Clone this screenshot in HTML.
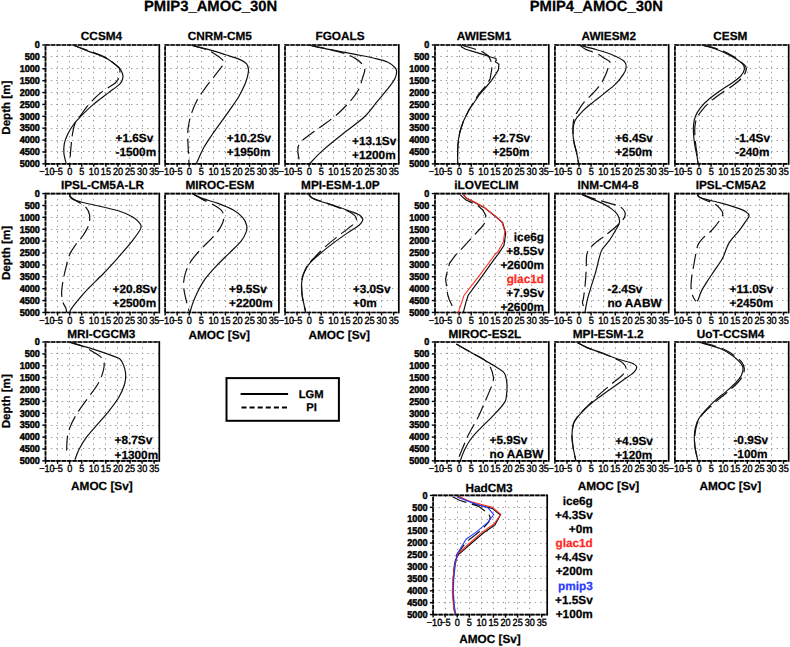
<!DOCTYPE html>
<html><head><meta charset="utf-8"><style>
html,body{margin:0;padding:0;background:#fff;width:790px;height:647px;overflow:hidden}
svg{display:block}
text{font-family:"Liberation Sans",sans-serif;stroke-width:0.25;text-rendering:geometricPrecision}
.gr{stroke:#999;stroke-width:1;stroke-dasharray:1.4 3.95}
.fu{stroke:#888;stroke-width:1.65;fill:none}
.fr{stroke:#000;stroke-width:1.65;fill:none;stroke-dasharray:4.3 1.1}
.fs{stroke:#000;stroke-width:1.7;fill:none}
.cs{stroke:#111;stroke-width:1.2;fill:none}
.cd{stroke:#111;stroke-width:1.2;fill:none;stroke-dasharray:15 5.7}
.cr{stroke:#ff2a1f;stroke-width:1.05;fill:none}
.cb{stroke:#2a3cff;stroke-width:1.05;fill:none}
.tk{stroke:#000;stroke-width:1.4}
.xl{font-size:10.4px;text-anchor:middle;stroke:#000;stroke-width:0.4}
.yl{font-size:9.9px;font-weight:bold;text-anchor:end;stroke:#000;stroke-width:0.5}
</style></head><body>
<svg width="790" height="647" viewBox="0 0 790 647">
<rect width="790" height="647" fill="#fff"/>
<line x1="57.50" y1="45.00" x2="57.50" y2="163.85" class="gr"/>
<line x1="69.50" y1="45.00" x2="69.50" y2="163.85" class="gr"/>
<line x1="81.50" y1="45.00" x2="81.50" y2="163.85" class="gr"/>
<line x1="93.50" y1="45.00" x2="93.50" y2="163.85" class="gr"/>
<line x1="105.50" y1="45.00" x2="105.50" y2="163.85" class="gr"/>
<line x1="117.50" y1="45.00" x2="117.50" y2="163.85" class="gr"/>
<line x1="129.50" y1="45.00" x2="129.50" y2="163.85" class="gr"/>
<line x1="142.50" y1="45.00" x2="142.50" y2="163.85" class="gr"/>
<line x1="45.50" y1="56.50" x2="159.30" y2="56.50" class="gr"/>
<line x1="45.50" y1="68.50" x2="159.30" y2="68.50" class="gr"/>
<line x1="45.50" y1="80.50" x2="159.30" y2="80.50" class="gr"/>
<line x1="45.50" y1="92.50" x2="159.30" y2="92.50" class="gr"/>
<line x1="45.50" y1="104.50" x2="159.30" y2="104.50" class="gr"/>
<line x1="45.50" y1="116.50" x2="159.30" y2="116.50" class="gr"/>
<line x1="45.50" y1="128.50" x2="159.30" y2="128.50" class="gr"/>
<line x1="45.50" y1="140.50" x2="159.30" y2="140.50" class="gr"/>
<line x1="45.50" y1="151.50" x2="159.30" y2="151.50" class="gr"/>
<path d="M45.50,163.85V45.00H159.30M45.50,163.85H159.30" class="fu"/>
<path d="M45.50,163.85V45.00H159.30" class="fr"/>
<path d="M45.50,163.85H159.30" class="fr"/>
<path d="M159.30,44.10V164.75" class="fs"/>
<line x1="45.50" y1="163.85" x2="45.50" y2="166.85" class="tk"/>
<line x1="57.57" y1="163.85" x2="57.57" y2="166.85" class="tk"/>
<line x1="69.64" y1="163.85" x2="69.64" y2="166.85" class="tk"/>
<line x1="81.71" y1="163.85" x2="81.71" y2="166.85" class="tk"/>
<line x1="93.78" y1="163.85" x2="93.78" y2="166.85" class="tk"/>
<line x1="105.85" y1="163.85" x2="105.85" y2="166.85" class="tk"/>
<line x1="117.92" y1="163.85" x2="117.92" y2="166.85" class="tk"/>
<line x1="129.99" y1="163.85" x2="129.99" y2="166.85" class="tk"/>
<line x1="142.06" y1="163.85" x2="142.06" y2="166.85" class="tk"/>
<line x1="154.13" y1="163.85" x2="154.13" y2="166.85" class="tk"/>
<text transform="translate(46.90,175.45) scale(0.88,1)" class="xl">−10</text>
<text transform="translate(57.67,175.45) scale(0.88,1)" class="xl">−5</text>
<text transform="translate(69.74,175.45) scale(0.88,1)" class="xl">0</text>
<text transform="translate(81.81,175.45) scale(0.88,1)" class="xl">5</text>
<text transform="translate(93.88,175.45) scale(0.88,1)" class="xl">10</text>
<text transform="translate(105.95,175.45) scale(0.88,1)" class="xl">15</text>
<text transform="translate(118.02,175.45) scale(0.88,1)" class="xl">20</text>
<text transform="translate(130.09,175.45) scale(0.88,1)" class="xl">25</text>
<text transform="translate(142.16,175.45) scale(0.88,1)" class="xl">30</text>
<text transform="translate(154.23,175.45) scale(0.88,1)" class="xl">35</text>
<line x1="42.30" y1="45.00" x2="45.50" y2="45.00" class="tk"/>
<text transform="translate(39.90,48.25) scale(0.92,1)" class="yl">0</text>
<line x1="42.30" y1="56.88" x2="45.50" y2="56.88" class="tk"/>
<text transform="translate(39.90,60.13) scale(0.92,1)" class="yl">500</text>
<line x1="42.30" y1="68.77" x2="45.50" y2="68.77" class="tk"/>
<text transform="translate(39.90,72.02) scale(0.92,1)" class="yl">1000</text>
<line x1="42.30" y1="80.66" x2="45.50" y2="80.66" class="tk"/>
<text transform="translate(39.90,83.91) scale(0.92,1)" class="yl">1500</text>
<line x1="42.30" y1="92.54" x2="45.50" y2="92.54" class="tk"/>
<text transform="translate(39.90,95.79) scale(0.92,1)" class="yl">2000</text>
<line x1="42.30" y1="104.42" x2="45.50" y2="104.42" class="tk"/>
<text transform="translate(39.90,107.67) scale(0.92,1)" class="yl">2500</text>
<line x1="42.30" y1="116.31" x2="45.50" y2="116.31" class="tk"/>
<text transform="translate(39.90,119.56) scale(0.92,1)" class="yl">3000</text>
<line x1="42.30" y1="128.19" x2="45.50" y2="128.19" class="tk"/>
<text transform="translate(39.90,131.44) scale(0.92,1)" class="yl">3500</text>
<line x1="42.30" y1="140.08" x2="45.50" y2="140.08" class="tk"/>
<text transform="translate(39.90,143.33) scale(0.92,1)" class="yl">4000</text>
<line x1="42.30" y1="151.96" x2="45.50" y2="151.96" class="tk"/>
<text transform="translate(39.90,155.21) scale(0.92,1)" class="yl">4500</text>
<line x1="42.30" y1="163.85" x2="45.50" y2="163.85" class="tk"/>
<text transform="translate(39.90,167.10) scale(0.92,1)" class="yl">5000</text>
<text x="101.50" y="40.40" font-size="11.8" text-anchor="middle" font-weight="bold" fill="#000" stroke="#000" >CCSM4</text>
<line x1="177.50" y1="45.00" x2="177.50" y2="163.85" class="gr"/>
<line x1="189.50" y1="45.00" x2="189.50" y2="163.85" class="gr"/>
<line x1="201.50" y1="45.00" x2="201.50" y2="163.85" class="gr"/>
<line x1="213.50" y1="45.00" x2="213.50" y2="163.85" class="gr"/>
<line x1="225.50" y1="45.00" x2="225.50" y2="163.85" class="gr"/>
<line x1="237.50" y1="45.00" x2="237.50" y2="163.85" class="gr"/>
<line x1="249.50" y1="45.00" x2="249.50" y2="163.85" class="gr"/>
<line x1="261.50" y1="45.00" x2="261.50" y2="163.85" class="gr"/>
<line x1="165.10" y1="56.50" x2="278.90" y2="56.50" class="gr"/>
<line x1="165.10" y1="68.50" x2="278.90" y2="68.50" class="gr"/>
<line x1="165.10" y1="80.50" x2="278.90" y2="80.50" class="gr"/>
<line x1="165.10" y1="92.50" x2="278.90" y2="92.50" class="gr"/>
<line x1="165.10" y1="104.50" x2="278.90" y2="104.50" class="gr"/>
<line x1="165.10" y1="116.50" x2="278.90" y2="116.50" class="gr"/>
<line x1="165.10" y1="128.50" x2="278.90" y2="128.50" class="gr"/>
<line x1="165.10" y1="140.50" x2="278.90" y2="140.50" class="gr"/>
<line x1="165.10" y1="151.50" x2="278.90" y2="151.50" class="gr"/>
<path d="M165.10,163.85V45.00H278.90M165.10,163.85H278.90" class="fu"/>
<path d="M165.10,163.85V45.00H278.90" class="fr"/>
<path d="M165.10,163.85H278.90" class="fr"/>
<path d="M278.90,44.10V164.75" class="fs"/>
<line x1="165.10" y1="163.85" x2="165.10" y2="166.85" class="tk"/>
<line x1="177.17" y1="163.85" x2="177.17" y2="166.85" class="tk"/>
<line x1="189.24" y1="163.85" x2="189.24" y2="166.85" class="tk"/>
<line x1="201.31" y1="163.85" x2="201.31" y2="166.85" class="tk"/>
<line x1="213.38" y1="163.85" x2="213.38" y2="166.85" class="tk"/>
<line x1="225.45" y1="163.85" x2="225.45" y2="166.85" class="tk"/>
<line x1="237.52" y1="163.85" x2="237.52" y2="166.85" class="tk"/>
<line x1="249.59" y1="163.85" x2="249.59" y2="166.85" class="tk"/>
<line x1="261.66" y1="163.85" x2="261.66" y2="166.85" class="tk"/>
<line x1="273.73" y1="163.85" x2="273.73" y2="166.85" class="tk"/>
<text transform="translate(166.50,175.45) scale(0.88,1)" class="xl">−10</text>
<text transform="translate(177.27,175.45) scale(0.88,1)" class="xl">−5</text>
<text transform="translate(189.34,175.45) scale(0.88,1)" class="xl">0</text>
<text transform="translate(201.41,175.45) scale(0.88,1)" class="xl">5</text>
<text transform="translate(213.48,175.45) scale(0.88,1)" class="xl">10</text>
<text transform="translate(225.55,175.45) scale(0.88,1)" class="xl">15</text>
<text transform="translate(237.62,175.45) scale(0.88,1)" class="xl">20</text>
<text transform="translate(249.69,175.45) scale(0.88,1)" class="xl">25</text>
<text transform="translate(261.76,175.45) scale(0.88,1)" class="xl">30</text>
<text transform="translate(273.83,175.45) scale(0.88,1)" class="xl">35</text>
<text x="219.80" y="40.40" font-size="11.8" text-anchor="middle" font-weight="bold" fill="#000" stroke="#000" >CNRM-CM5</text>
<line x1="297.50" y1="45.00" x2="297.50" y2="163.85" class="gr"/>
<line x1="309.50" y1="45.00" x2="309.50" y2="163.85" class="gr"/>
<line x1="321.50" y1="45.00" x2="321.50" y2="163.85" class="gr"/>
<line x1="333.50" y1="45.00" x2="333.50" y2="163.85" class="gr"/>
<line x1="345.50" y1="45.00" x2="345.50" y2="163.85" class="gr"/>
<line x1="357.50" y1="45.00" x2="357.50" y2="163.85" class="gr"/>
<line x1="369.50" y1="45.00" x2="369.50" y2="163.85" class="gr"/>
<line x1="381.50" y1="45.00" x2="381.50" y2="163.85" class="gr"/>
<line x1="285.00" y1="56.50" x2="398.80" y2="56.50" class="gr"/>
<line x1="285.00" y1="68.50" x2="398.80" y2="68.50" class="gr"/>
<line x1="285.00" y1="80.50" x2="398.80" y2="80.50" class="gr"/>
<line x1="285.00" y1="92.50" x2="398.80" y2="92.50" class="gr"/>
<line x1="285.00" y1="104.50" x2="398.80" y2="104.50" class="gr"/>
<line x1="285.00" y1="116.50" x2="398.80" y2="116.50" class="gr"/>
<line x1="285.00" y1="128.50" x2="398.80" y2="128.50" class="gr"/>
<line x1="285.00" y1="140.50" x2="398.80" y2="140.50" class="gr"/>
<line x1="285.00" y1="151.50" x2="398.80" y2="151.50" class="gr"/>
<path d="M285.00,163.85V45.00H398.80M285.00,163.85H398.80" class="fu"/>
<path d="M285.00,163.85V45.00H398.80" class="fr"/>
<path d="M285.00,163.85H398.80" class="fr"/>
<path d="M398.80,44.10V164.75" class="fs"/>
<line x1="285.00" y1="163.85" x2="285.00" y2="166.85" class="tk"/>
<line x1="297.07" y1="163.85" x2="297.07" y2="166.85" class="tk"/>
<line x1="309.14" y1="163.85" x2="309.14" y2="166.85" class="tk"/>
<line x1="321.21" y1="163.85" x2="321.21" y2="166.85" class="tk"/>
<line x1="333.28" y1="163.85" x2="333.28" y2="166.85" class="tk"/>
<line x1="345.35" y1="163.85" x2="345.35" y2="166.85" class="tk"/>
<line x1="357.42" y1="163.85" x2="357.42" y2="166.85" class="tk"/>
<line x1="369.49" y1="163.85" x2="369.49" y2="166.85" class="tk"/>
<line x1="381.56" y1="163.85" x2="381.56" y2="166.85" class="tk"/>
<line x1="393.63" y1="163.85" x2="393.63" y2="166.85" class="tk"/>
<text transform="translate(286.40,175.45) scale(0.88,1)" class="xl">−10</text>
<text transform="translate(297.17,175.45) scale(0.88,1)" class="xl">−5</text>
<text transform="translate(309.24,175.45) scale(0.88,1)" class="xl">0</text>
<text transform="translate(321.31,175.45) scale(0.88,1)" class="xl">5</text>
<text transform="translate(333.38,175.45) scale(0.88,1)" class="xl">10</text>
<text transform="translate(345.45,175.45) scale(0.88,1)" class="xl">15</text>
<text transform="translate(357.52,175.45) scale(0.88,1)" class="xl">20</text>
<text transform="translate(369.59,175.45) scale(0.88,1)" class="xl">25</text>
<text transform="translate(381.66,175.45) scale(0.88,1)" class="xl">30</text>
<text transform="translate(393.73,175.45) scale(0.88,1)" class="xl">35</text>
<text x="340.00" y="40.40" font-size="11.8" text-anchor="middle" font-weight="bold" fill="#000" stroke="#000" >FGOALS</text>
<line x1="57.50" y1="193.60" x2="57.50" y2="312.45" class="gr"/>
<line x1="69.50" y1="193.60" x2="69.50" y2="312.45" class="gr"/>
<line x1="81.50" y1="193.60" x2="81.50" y2="312.45" class="gr"/>
<line x1="93.50" y1="193.60" x2="93.50" y2="312.45" class="gr"/>
<line x1="105.50" y1="193.60" x2="105.50" y2="312.45" class="gr"/>
<line x1="117.50" y1="193.60" x2="117.50" y2="312.45" class="gr"/>
<line x1="129.50" y1="193.60" x2="129.50" y2="312.45" class="gr"/>
<line x1="142.50" y1="193.60" x2="142.50" y2="312.45" class="gr"/>
<line x1="45.50" y1="205.50" x2="159.30" y2="205.50" class="gr"/>
<line x1="45.50" y1="217.50" x2="159.30" y2="217.50" class="gr"/>
<line x1="45.50" y1="229.50" x2="159.30" y2="229.50" class="gr"/>
<line x1="45.50" y1="241.50" x2="159.30" y2="241.50" class="gr"/>
<line x1="45.50" y1="253.50" x2="159.30" y2="253.50" class="gr"/>
<line x1="45.50" y1="264.50" x2="159.30" y2="264.50" class="gr"/>
<line x1="45.50" y1="276.50" x2="159.30" y2="276.50" class="gr"/>
<line x1="45.50" y1="288.50" x2="159.30" y2="288.50" class="gr"/>
<line x1="45.50" y1="300.50" x2="159.30" y2="300.50" class="gr"/>
<path d="M45.50,312.45V193.60H159.30M45.50,312.45H159.30" class="fu"/>
<path d="M45.50,312.45V193.60H159.30" class="fr"/>
<path d="M45.50,312.45H159.30" class="fr"/>
<path d="M159.30,192.70V313.35" class="fs"/>
<line x1="45.50" y1="312.45" x2="45.50" y2="315.45" class="tk"/>
<line x1="57.57" y1="312.45" x2="57.57" y2="315.45" class="tk"/>
<line x1="69.64" y1="312.45" x2="69.64" y2="315.45" class="tk"/>
<line x1="81.71" y1="312.45" x2="81.71" y2="315.45" class="tk"/>
<line x1="93.78" y1="312.45" x2="93.78" y2="315.45" class="tk"/>
<line x1="105.85" y1="312.45" x2="105.85" y2="315.45" class="tk"/>
<line x1="117.92" y1="312.45" x2="117.92" y2="315.45" class="tk"/>
<line x1="129.99" y1="312.45" x2="129.99" y2="315.45" class="tk"/>
<line x1="142.06" y1="312.45" x2="142.06" y2="315.45" class="tk"/>
<line x1="154.13" y1="312.45" x2="154.13" y2="315.45" class="tk"/>
<text transform="translate(46.90,324.05) scale(0.88,1)" class="xl">−10</text>
<text transform="translate(57.67,324.05) scale(0.88,1)" class="xl">−5</text>
<text transform="translate(69.74,324.05) scale(0.88,1)" class="xl">0</text>
<text transform="translate(81.81,324.05) scale(0.88,1)" class="xl">5</text>
<text transform="translate(93.88,324.05) scale(0.88,1)" class="xl">10</text>
<text transform="translate(105.95,324.05) scale(0.88,1)" class="xl">15</text>
<text transform="translate(118.02,324.05) scale(0.88,1)" class="xl">20</text>
<text transform="translate(130.09,324.05) scale(0.88,1)" class="xl">25</text>
<text transform="translate(142.16,324.05) scale(0.88,1)" class="xl">30</text>
<text transform="translate(154.23,324.05) scale(0.88,1)" class="xl">35</text>
<line x1="42.30" y1="193.60" x2="45.50" y2="193.60" class="tk"/>
<text transform="translate(39.90,196.85) scale(0.92,1)" class="yl">0</text>
<line x1="42.30" y1="205.48" x2="45.50" y2="205.48" class="tk"/>
<text transform="translate(39.90,208.73) scale(0.92,1)" class="yl">500</text>
<line x1="42.30" y1="217.37" x2="45.50" y2="217.37" class="tk"/>
<text transform="translate(39.90,220.62) scale(0.92,1)" class="yl">1000</text>
<line x1="42.30" y1="229.25" x2="45.50" y2="229.25" class="tk"/>
<text transform="translate(39.90,232.50) scale(0.92,1)" class="yl">1500</text>
<line x1="42.30" y1="241.14" x2="45.50" y2="241.14" class="tk"/>
<text transform="translate(39.90,244.39) scale(0.92,1)" class="yl">2000</text>
<line x1="42.30" y1="253.02" x2="45.50" y2="253.02" class="tk"/>
<text transform="translate(39.90,256.27) scale(0.92,1)" class="yl">2500</text>
<line x1="42.30" y1="264.91" x2="45.50" y2="264.91" class="tk"/>
<text transform="translate(39.90,268.16) scale(0.92,1)" class="yl">3000</text>
<line x1="42.30" y1="276.79" x2="45.50" y2="276.79" class="tk"/>
<text transform="translate(39.90,280.04) scale(0.92,1)" class="yl">3500</text>
<line x1="42.30" y1="288.68" x2="45.50" y2="288.68" class="tk"/>
<text transform="translate(39.90,291.93) scale(0.92,1)" class="yl">4000</text>
<line x1="42.30" y1="300.56" x2="45.50" y2="300.56" class="tk"/>
<text transform="translate(39.90,303.81) scale(0.92,1)" class="yl">4500</text>
<line x1="42.30" y1="312.45" x2="45.50" y2="312.45" class="tk"/>
<text transform="translate(39.90,315.70) scale(0.92,1)" class="yl">5000</text>
<text x="102.50" y="189.30" font-size="11.8" text-anchor="middle" font-weight="bold" fill="#000" stroke="#000" >IPSL-CM5A-LR</text>
<line x1="177.50" y1="193.60" x2="177.50" y2="312.45" class="gr"/>
<line x1="189.50" y1="193.60" x2="189.50" y2="312.45" class="gr"/>
<line x1="201.50" y1="193.60" x2="201.50" y2="312.45" class="gr"/>
<line x1="213.50" y1="193.60" x2="213.50" y2="312.45" class="gr"/>
<line x1="225.50" y1="193.60" x2="225.50" y2="312.45" class="gr"/>
<line x1="237.50" y1="193.60" x2="237.50" y2="312.45" class="gr"/>
<line x1="249.50" y1="193.60" x2="249.50" y2="312.45" class="gr"/>
<line x1="261.50" y1="193.60" x2="261.50" y2="312.45" class="gr"/>
<line x1="165.10" y1="205.50" x2="278.90" y2="205.50" class="gr"/>
<line x1="165.10" y1="217.50" x2="278.90" y2="217.50" class="gr"/>
<line x1="165.10" y1="229.50" x2="278.90" y2="229.50" class="gr"/>
<line x1="165.10" y1="241.50" x2="278.90" y2="241.50" class="gr"/>
<line x1="165.10" y1="253.50" x2="278.90" y2="253.50" class="gr"/>
<line x1="165.10" y1="264.50" x2="278.90" y2="264.50" class="gr"/>
<line x1="165.10" y1="276.50" x2="278.90" y2="276.50" class="gr"/>
<line x1="165.10" y1="288.50" x2="278.90" y2="288.50" class="gr"/>
<line x1="165.10" y1="300.50" x2="278.90" y2="300.50" class="gr"/>
<path d="M165.10,312.45V193.60H278.90M165.10,312.45H278.90" class="fu"/>
<path d="M165.10,312.45V193.60H278.90" class="fr"/>
<path d="M165.10,312.45H278.90" class="fr"/>
<path d="M278.90,192.70V313.35" class="fs"/>
<line x1="165.10" y1="312.45" x2="165.10" y2="315.45" class="tk"/>
<line x1="177.17" y1="312.45" x2="177.17" y2="315.45" class="tk"/>
<line x1="189.24" y1="312.45" x2="189.24" y2="315.45" class="tk"/>
<line x1="201.31" y1="312.45" x2="201.31" y2="315.45" class="tk"/>
<line x1="213.38" y1="312.45" x2="213.38" y2="315.45" class="tk"/>
<line x1="225.45" y1="312.45" x2="225.45" y2="315.45" class="tk"/>
<line x1="237.52" y1="312.45" x2="237.52" y2="315.45" class="tk"/>
<line x1="249.59" y1="312.45" x2="249.59" y2="315.45" class="tk"/>
<line x1="261.66" y1="312.45" x2="261.66" y2="315.45" class="tk"/>
<line x1="273.73" y1="312.45" x2="273.73" y2="315.45" class="tk"/>
<text transform="translate(166.50,324.05) scale(0.88,1)" class="xl">−10</text>
<text transform="translate(177.27,324.05) scale(0.88,1)" class="xl">−5</text>
<text transform="translate(189.34,324.05) scale(0.88,1)" class="xl">0</text>
<text transform="translate(201.41,324.05) scale(0.88,1)" class="xl">5</text>
<text transform="translate(213.48,324.05) scale(0.88,1)" class="xl">10</text>
<text transform="translate(225.55,324.05) scale(0.88,1)" class="xl">15</text>
<text transform="translate(237.62,324.05) scale(0.88,1)" class="xl">20</text>
<text transform="translate(249.69,324.05) scale(0.88,1)" class="xl">25</text>
<text transform="translate(261.76,324.05) scale(0.88,1)" class="xl">30</text>
<text transform="translate(273.83,324.05) scale(0.88,1)" class="xl">35</text>
<text x="219.80" y="189.30" font-size="11.8" text-anchor="middle" font-weight="bold" fill="#000" stroke="#000" >MIROC-ESM</text>
<line x1="297.50" y1="193.60" x2="297.50" y2="312.45" class="gr"/>
<line x1="309.50" y1="193.60" x2="309.50" y2="312.45" class="gr"/>
<line x1="321.50" y1="193.60" x2="321.50" y2="312.45" class="gr"/>
<line x1="333.50" y1="193.60" x2="333.50" y2="312.45" class="gr"/>
<line x1="345.50" y1="193.60" x2="345.50" y2="312.45" class="gr"/>
<line x1="357.50" y1="193.60" x2="357.50" y2="312.45" class="gr"/>
<line x1="369.50" y1="193.60" x2="369.50" y2="312.45" class="gr"/>
<line x1="381.50" y1="193.60" x2="381.50" y2="312.45" class="gr"/>
<line x1="285.00" y1="205.50" x2="398.80" y2="205.50" class="gr"/>
<line x1="285.00" y1="217.50" x2="398.80" y2="217.50" class="gr"/>
<line x1="285.00" y1="229.50" x2="398.80" y2="229.50" class="gr"/>
<line x1="285.00" y1="241.50" x2="398.80" y2="241.50" class="gr"/>
<line x1="285.00" y1="253.50" x2="398.80" y2="253.50" class="gr"/>
<line x1="285.00" y1="264.50" x2="398.80" y2="264.50" class="gr"/>
<line x1="285.00" y1="276.50" x2="398.80" y2="276.50" class="gr"/>
<line x1="285.00" y1="288.50" x2="398.80" y2="288.50" class="gr"/>
<line x1="285.00" y1="300.50" x2="398.80" y2="300.50" class="gr"/>
<path d="M285.00,312.45V193.60H398.80M285.00,312.45H398.80" class="fu"/>
<path d="M285.00,312.45V193.60H398.80" class="fr"/>
<path d="M285.00,312.45H398.80" class="fr"/>
<path d="M398.80,192.70V313.35" class="fs"/>
<line x1="285.00" y1="312.45" x2="285.00" y2="315.45" class="tk"/>
<line x1="297.07" y1="312.45" x2="297.07" y2="315.45" class="tk"/>
<line x1="309.14" y1="312.45" x2="309.14" y2="315.45" class="tk"/>
<line x1="321.21" y1="312.45" x2="321.21" y2="315.45" class="tk"/>
<line x1="333.28" y1="312.45" x2="333.28" y2="315.45" class="tk"/>
<line x1="345.35" y1="312.45" x2="345.35" y2="315.45" class="tk"/>
<line x1="357.42" y1="312.45" x2="357.42" y2="315.45" class="tk"/>
<line x1="369.49" y1="312.45" x2="369.49" y2="315.45" class="tk"/>
<line x1="381.56" y1="312.45" x2="381.56" y2="315.45" class="tk"/>
<line x1="393.63" y1="312.45" x2="393.63" y2="315.45" class="tk"/>
<text transform="translate(286.40,324.05) scale(0.88,1)" class="xl">−10</text>
<text transform="translate(297.17,324.05) scale(0.88,1)" class="xl">−5</text>
<text transform="translate(309.24,324.05) scale(0.88,1)" class="xl">0</text>
<text transform="translate(321.31,324.05) scale(0.88,1)" class="xl">5</text>
<text transform="translate(333.38,324.05) scale(0.88,1)" class="xl">10</text>
<text transform="translate(345.45,324.05) scale(0.88,1)" class="xl">15</text>
<text transform="translate(357.52,324.05) scale(0.88,1)" class="xl">20</text>
<text transform="translate(369.59,324.05) scale(0.88,1)" class="xl">25</text>
<text transform="translate(381.66,324.05) scale(0.88,1)" class="xl">30</text>
<text transform="translate(393.73,324.05) scale(0.88,1)" class="xl">35</text>
<text x="340.40" y="189.30" font-size="11.8" text-anchor="middle" font-weight="bold" fill="#000" stroke="#000" >MPI-ESM-1.0P</text>
<line x1="57.50" y1="342.00" x2="57.50" y2="460.85" class="gr"/>
<line x1="69.50" y1="342.00" x2="69.50" y2="460.85" class="gr"/>
<line x1="81.50" y1="342.00" x2="81.50" y2="460.85" class="gr"/>
<line x1="93.50" y1="342.00" x2="93.50" y2="460.85" class="gr"/>
<line x1="105.50" y1="342.00" x2="105.50" y2="460.85" class="gr"/>
<line x1="117.50" y1="342.00" x2="117.50" y2="460.85" class="gr"/>
<line x1="129.50" y1="342.00" x2="129.50" y2="460.85" class="gr"/>
<line x1="142.50" y1="342.00" x2="142.50" y2="460.85" class="gr"/>
<line x1="45.50" y1="353.50" x2="159.30" y2="353.50" class="gr"/>
<line x1="45.50" y1="365.50" x2="159.30" y2="365.50" class="gr"/>
<line x1="45.50" y1="377.50" x2="159.30" y2="377.50" class="gr"/>
<line x1="45.50" y1="389.50" x2="159.30" y2="389.50" class="gr"/>
<line x1="45.50" y1="401.50" x2="159.30" y2="401.50" class="gr"/>
<line x1="45.50" y1="413.50" x2="159.30" y2="413.50" class="gr"/>
<line x1="45.50" y1="425.50" x2="159.30" y2="425.50" class="gr"/>
<line x1="45.50" y1="437.50" x2="159.30" y2="437.50" class="gr"/>
<line x1="45.50" y1="448.50" x2="159.30" y2="448.50" class="gr"/>
<path d="M45.50,460.85V342.00H159.30M45.50,460.85H159.30" class="fu"/>
<path d="M45.50,460.85V342.00H159.30" class="fr"/>
<path d="M45.50,460.85H159.30" class="fr"/>
<path d="M159.30,341.10V461.75" class="fs"/>
<line x1="45.50" y1="460.85" x2="45.50" y2="463.85" class="tk"/>
<line x1="57.57" y1="460.85" x2="57.57" y2="463.85" class="tk"/>
<line x1="69.64" y1="460.85" x2="69.64" y2="463.85" class="tk"/>
<line x1="81.71" y1="460.85" x2="81.71" y2="463.85" class="tk"/>
<line x1="93.78" y1="460.85" x2="93.78" y2="463.85" class="tk"/>
<line x1="105.85" y1="460.85" x2="105.85" y2="463.85" class="tk"/>
<line x1="117.92" y1="460.85" x2="117.92" y2="463.85" class="tk"/>
<line x1="129.99" y1="460.85" x2="129.99" y2="463.85" class="tk"/>
<line x1="142.06" y1="460.85" x2="142.06" y2="463.85" class="tk"/>
<line x1="154.13" y1="460.85" x2="154.13" y2="463.85" class="tk"/>
<text transform="translate(46.90,472.45) scale(0.88,1)" class="xl">−10</text>
<text transform="translate(57.67,472.45) scale(0.88,1)" class="xl">−5</text>
<text transform="translate(69.74,472.45) scale(0.88,1)" class="xl">0</text>
<text transform="translate(81.81,472.45) scale(0.88,1)" class="xl">5</text>
<text transform="translate(93.88,472.45) scale(0.88,1)" class="xl">10</text>
<text transform="translate(105.95,472.45) scale(0.88,1)" class="xl">15</text>
<text transform="translate(118.02,472.45) scale(0.88,1)" class="xl">20</text>
<text transform="translate(130.09,472.45) scale(0.88,1)" class="xl">25</text>
<text transform="translate(142.16,472.45) scale(0.88,1)" class="xl">30</text>
<text transform="translate(154.23,472.45) scale(0.88,1)" class="xl">35</text>
<line x1="42.30" y1="342.00" x2="45.50" y2="342.00" class="tk"/>
<text transform="translate(39.90,345.25) scale(0.92,1)" class="yl">0</text>
<line x1="42.30" y1="353.88" x2="45.50" y2="353.88" class="tk"/>
<text transform="translate(39.90,357.13) scale(0.92,1)" class="yl">500</text>
<line x1="42.30" y1="365.77" x2="45.50" y2="365.77" class="tk"/>
<text transform="translate(39.90,369.02) scale(0.92,1)" class="yl">1000</text>
<line x1="42.30" y1="377.65" x2="45.50" y2="377.65" class="tk"/>
<text transform="translate(39.90,380.90) scale(0.92,1)" class="yl">1500</text>
<line x1="42.30" y1="389.54" x2="45.50" y2="389.54" class="tk"/>
<text transform="translate(39.90,392.79) scale(0.92,1)" class="yl">2000</text>
<line x1="42.30" y1="401.43" x2="45.50" y2="401.43" class="tk"/>
<text transform="translate(39.90,404.68) scale(0.92,1)" class="yl">2500</text>
<line x1="42.30" y1="413.31" x2="45.50" y2="413.31" class="tk"/>
<text transform="translate(39.90,416.56) scale(0.92,1)" class="yl">3000</text>
<line x1="42.30" y1="425.19" x2="45.50" y2="425.19" class="tk"/>
<text transform="translate(39.90,428.44) scale(0.92,1)" class="yl">3500</text>
<line x1="42.30" y1="437.08" x2="45.50" y2="437.08" class="tk"/>
<text transform="translate(39.90,440.33) scale(0.92,1)" class="yl">4000</text>
<line x1="42.30" y1="448.96" x2="45.50" y2="448.96" class="tk"/>
<text transform="translate(39.90,452.21) scale(0.92,1)" class="yl">4500</text>
<line x1="42.30" y1="460.85" x2="45.50" y2="460.85" class="tk"/>
<text transform="translate(39.90,464.10) scale(0.92,1)" class="yl">5000</text>
<text x="101.30" y="338.20" font-size="11.8" text-anchor="middle" font-weight="bold" fill="#000" stroke="#000" >MRI-CGCM3</text>
<line x1="447.50" y1="45.00" x2="447.50" y2="163.85" class="gr"/>
<line x1="459.50" y1="45.00" x2="459.50" y2="163.85" class="gr"/>
<line x1="471.50" y1="45.00" x2="471.50" y2="163.85" class="gr"/>
<line x1="483.50" y1="45.00" x2="483.50" y2="163.85" class="gr"/>
<line x1="495.50" y1="45.00" x2="495.50" y2="163.85" class="gr"/>
<line x1="507.50" y1="45.00" x2="507.50" y2="163.85" class="gr"/>
<line x1="519.50" y1="45.00" x2="519.50" y2="163.85" class="gr"/>
<line x1="531.50" y1="45.00" x2="531.50" y2="163.85" class="gr"/>
<line x1="435.00" y1="56.50" x2="548.80" y2="56.50" class="gr"/>
<line x1="435.00" y1="68.50" x2="548.80" y2="68.50" class="gr"/>
<line x1="435.00" y1="80.50" x2="548.80" y2="80.50" class="gr"/>
<line x1="435.00" y1="92.50" x2="548.80" y2="92.50" class="gr"/>
<line x1="435.00" y1="104.50" x2="548.80" y2="104.50" class="gr"/>
<line x1="435.00" y1="116.50" x2="548.80" y2="116.50" class="gr"/>
<line x1="435.00" y1="128.50" x2="548.80" y2="128.50" class="gr"/>
<line x1="435.00" y1="140.50" x2="548.80" y2="140.50" class="gr"/>
<line x1="435.00" y1="151.50" x2="548.80" y2="151.50" class="gr"/>
<path d="M435.00,163.85V45.00H548.80M435.00,163.85H548.80" class="fu"/>
<path d="M435.00,163.85V45.00H548.80" class="fr"/>
<path d="M435.00,163.85H548.80" class="fr"/>
<path d="M548.80,44.10V164.75" class="fs"/>
<line x1="435.00" y1="163.85" x2="435.00" y2="166.85" class="tk"/>
<line x1="447.07" y1="163.85" x2="447.07" y2="166.85" class="tk"/>
<line x1="459.14" y1="163.85" x2="459.14" y2="166.85" class="tk"/>
<line x1="471.21" y1="163.85" x2="471.21" y2="166.85" class="tk"/>
<line x1="483.28" y1="163.85" x2="483.28" y2="166.85" class="tk"/>
<line x1="495.35" y1="163.85" x2="495.35" y2="166.85" class="tk"/>
<line x1="507.42" y1="163.85" x2="507.42" y2="166.85" class="tk"/>
<line x1="519.49" y1="163.85" x2="519.49" y2="166.85" class="tk"/>
<line x1="531.56" y1="163.85" x2="531.56" y2="166.85" class="tk"/>
<line x1="543.63" y1="163.85" x2="543.63" y2="166.85" class="tk"/>
<text transform="translate(436.40,175.45) scale(0.88,1)" class="xl">−10</text>
<text transform="translate(447.17,175.45) scale(0.88,1)" class="xl">−5</text>
<text transform="translate(459.24,175.45) scale(0.88,1)" class="xl">0</text>
<text transform="translate(471.31,175.45) scale(0.88,1)" class="xl">5</text>
<text transform="translate(483.38,175.45) scale(0.88,1)" class="xl">10</text>
<text transform="translate(495.45,175.45) scale(0.88,1)" class="xl">15</text>
<text transform="translate(507.52,175.45) scale(0.88,1)" class="xl">20</text>
<text transform="translate(519.59,175.45) scale(0.88,1)" class="xl">25</text>
<text transform="translate(531.66,175.45) scale(0.88,1)" class="xl">30</text>
<text transform="translate(543.73,175.45) scale(0.88,1)" class="xl">35</text>
<line x1="431.80" y1="45.00" x2="435.00" y2="45.00" class="tk"/>
<text transform="translate(429.40,48.25) scale(0.92,1)" class="yl">0</text>
<line x1="431.80" y1="56.88" x2="435.00" y2="56.88" class="tk"/>
<text transform="translate(429.40,60.13) scale(0.92,1)" class="yl">500</text>
<line x1="431.80" y1="68.77" x2="435.00" y2="68.77" class="tk"/>
<text transform="translate(429.40,72.02) scale(0.92,1)" class="yl">1000</text>
<line x1="431.80" y1="80.66" x2="435.00" y2="80.66" class="tk"/>
<text transform="translate(429.40,83.91) scale(0.92,1)" class="yl">1500</text>
<line x1="431.80" y1="92.54" x2="435.00" y2="92.54" class="tk"/>
<text transform="translate(429.40,95.79) scale(0.92,1)" class="yl">2000</text>
<line x1="431.80" y1="104.42" x2="435.00" y2="104.42" class="tk"/>
<text transform="translate(429.40,107.67) scale(0.92,1)" class="yl">2500</text>
<line x1="431.80" y1="116.31" x2="435.00" y2="116.31" class="tk"/>
<text transform="translate(429.40,119.56) scale(0.92,1)" class="yl">3000</text>
<line x1="431.80" y1="128.19" x2="435.00" y2="128.19" class="tk"/>
<text transform="translate(429.40,131.44) scale(0.92,1)" class="yl">3500</text>
<line x1="431.80" y1="140.08" x2="435.00" y2="140.08" class="tk"/>
<text transform="translate(429.40,143.33) scale(0.92,1)" class="yl">4000</text>
<line x1="431.80" y1="151.96" x2="435.00" y2="151.96" class="tk"/>
<text transform="translate(429.40,155.21) scale(0.92,1)" class="yl">4500</text>
<line x1="431.80" y1="163.85" x2="435.00" y2="163.85" class="tk"/>
<text transform="translate(429.40,167.10) scale(0.92,1)" class="yl">5000</text>
<text x="484.00" y="40.40" font-size="11.8" text-anchor="middle" font-weight="bold" fill="#000" stroke="#000" >AWIESM1</text>
<line x1="566.50" y1="45.00" x2="566.50" y2="163.85" class="gr"/>
<line x1="579.50" y1="45.00" x2="579.50" y2="163.85" class="gr"/>
<line x1="591.50" y1="45.00" x2="591.50" y2="163.85" class="gr"/>
<line x1="603.50" y1="45.00" x2="603.50" y2="163.85" class="gr"/>
<line x1="615.50" y1="45.00" x2="615.50" y2="163.85" class="gr"/>
<line x1="627.50" y1="45.00" x2="627.50" y2="163.85" class="gr"/>
<line x1="639.50" y1="45.00" x2="639.50" y2="163.85" class="gr"/>
<line x1="651.50" y1="45.00" x2="651.50" y2="163.85" class="gr"/>
<line x1="554.90" y1="56.50" x2="668.70" y2="56.50" class="gr"/>
<line x1="554.90" y1="68.50" x2="668.70" y2="68.50" class="gr"/>
<line x1="554.90" y1="80.50" x2="668.70" y2="80.50" class="gr"/>
<line x1="554.90" y1="92.50" x2="668.70" y2="92.50" class="gr"/>
<line x1="554.90" y1="104.50" x2="668.70" y2="104.50" class="gr"/>
<line x1="554.90" y1="116.50" x2="668.70" y2="116.50" class="gr"/>
<line x1="554.90" y1="128.50" x2="668.70" y2="128.50" class="gr"/>
<line x1="554.90" y1="140.50" x2="668.70" y2="140.50" class="gr"/>
<line x1="554.90" y1="151.50" x2="668.70" y2="151.50" class="gr"/>
<path d="M554.90,163.85V45.00H668.70M554.90,163.85H668.70" class="fu"/>
<path d="M554.90,163.85V45.00H668.70" class="fr"/>
<path d="M554.90,163.85H668.70" class="fr"/>
<path d="M668.70,44.10V164.75" class="fs"/>
<line x1="554.90" y1="163.85" x2="554.90" y2="166.85" class="tk"/>
<line x1="566.97" y1="163.85" x2="566.97" y2="166.85" class="tk"/>
<line x1="579.04" y1="163.85" x2="579.04" y2="166.85" class="tk"/>
<line x1="591.11" y1="163.85" x2="591.11" y2="166.85" class="tk"/>
<line x1="603.18" y1="163.85" x2="603.18" y2="166.85" class="tk"/>
<line x1="615.25" y1="163.85" x2="615.25" y2="166.85" class="tk"/>
<line x1="627.32" y1="163.85" x2="627.32" y2="166.85" class="tk"/>
<line x1="639.39" y1="163.85" x2="639.39" y2="166.85" class="tk"/>
<line x1="651.46" y1="163.85" x2="651.46" y2="166.85" class="tk"/>
<line x1="663.53" y1="163.85" x2="663.53" y2="166.85" class="tk"/>
<text transform="translate(556.30,175.45) scale(0.88,1)" class="xl">−10</text>
<text transform="translate(567.07,175.45) scale(0.88,1)" class="xl">−5</text>
<text transform="translate(579.14,175.45) scale(0.88,1)" class="xl">0</text>
<text transform="translate(591.21,175.45) scale(0.88,1)" class="xl">5</text>
<text transform="translate(603.28,175.45) scale(0.88,1)" class="xl">10</text>
<text transform="translate(615.35,175.45) scale(0.88,1)" class="xl">15</text>
<text transform="translate(627.42,175.45) scale(0.88,1)" class="xl">20</text>
<text transform="translate(639.49,175.45) scale(0.88,1)" class="xl">25</text>
<text transform="translate(651.56,175.45) scale(0.88,1)" class="xl">30</text>
<text transform="translate(663.63,175.45) scale(0.88,1)" class="xl">35</text>
<text x="608.80" y="40.40" font-size="11.8" text-anchor="middle" font-weight="bold" fill="#000" stroke="#000" >AWIESM2</text>
<line x1="686.50" y1="45.00" x2="686.50" y2="163.85" class="gr"/>
<line x1="699.50" y1="45.00" x2="699.50" y2="163.85" class="gr"/>
<line x1="711.50" y1="45.00" x2="711.50" y2="163.85" class="gr"/>
<line x1="723.50" y1="45.00" x2="723.50" y2="163.85" class="gr"/>
<line x1="735.50" y1="45.00" x2="735.50" y2="163.85" class="gr"/>
<line x1="747.50" y1="45.00" x2="747.50" y2="163.85" class="gr"/>
<line x1="759.50" y1="45.00" x2="759.50" y2="163.85" class="gr"/>
<line x1="771.50" y1="45.00" x2="771.50" y2="163.85" class="gr"/>
<line x1="674.90" y1="56.50" x2="788.70" y2="56.50" class="gr"/>
<line x1="674.90" y1="68.50" x2="788.70" y2="68.50" class="gr"/>
<line x1="674.90" y1="80.50" x2="788.70" y2="80.50" class="gr"/>
<line x1="674.90" y1="92.50" x2="788.70" y2="92.50" class="gr"/>
<line x1="674.90" y1="104.50" x2="788.70" y2="104.50" class="gr"/>
<line x1="674.90" y1="116.50" x2="788.70" y2="116.50" class="gr"/>
<line x1="674.90" y1="128.50" x2="788.70" y2="128.50" class="gr"/>
<line x1="674.90" y1="140.50" x2="788.70" y2="140.50" class="gr"/>
<line x1="674.90" y1="151.50" x2="788.70" y2="151.50" class="gr"/>
<path d="M674.90,163.85V45.00H788.70M674.90,163.85H788.70" class="fu"/>
<path d="M674.90,163.85V45.00H788.70" class="fr"/>
<path d="M674.90,163.85H788.70" class="fr"/>
<path d="M788.70,44.10V164.75" class="fs"/>
<line x1="674.90" y1="163.85" x2="674.90" y2="166.85" class="tk"/>
<line x1="686.97" y1="163.85" x2="686.97" y2="166.85" class="tk"/>
<line x1="699.04" y1="163.85" x2="699.04" y2="166.85" class="tk"/>
<line x1="711.11" y1="163.85" x2="711.11" y2="166.85" class="tk"/>
<line x1="723.18" y1="163.85" x2="723.18" y2="166.85" class="tk"/>
<line x1="735.25" y1="163.85" x2="735.25" y2="166.85" class="tk"/>
<line x1="747.32" y1="163.85" x2="747.32" y2="166.85" class="tk"/>
<line x1="759.39" y1="163.85" x2="759.39" y2="166.85" class="tk"/>
<line x1="771.46" y1="163.85" x2="771.46" y2="166.85" class="tk"/>
<line x1="783.53" y1="163.85" x2="783.53" y2="166.85" class="tk"/>
<text transform="translate(676.30,175.45) scale(0.88,1)" class="xl">−10</text>
<text transform="translate(687.07,175.45) scale(0.88,1)" class="xl">−5</text>
<text transform="translate(699.14,175.45) scale(0.88,1)" class="xl">0</text>
<text transform="translate(711.21,175.45) scale(0.88,1)" class="xl">5</text>
<text transform="translate(723.28,175.45) scale(0.88,1)" class="xl">10</text>
<text transform="translate(735.35,175.45) scale(0.88,1)" class="xl">15</text>
<text transform="translate(747.42,175.45) scale(0.88,1)" class="xl">20</text>
<text transform="translate(759.49,175.45) scale(0.88,1)" class="xl">25</text>
<text transform="translate(771.56,175.45) scale(0.88,1)" class="xl">30</text>
<text transform="translate(783.63,175.45) scale(0.88,1)" class="xl">35</text>
<text x="730.40" y="40.40" font-size="11.8" text-anchor="middle" font-weight="bold" fill="#000" stroke="#000" >CESM</text>
<line x1="447.50" y1="193.60" x2="447.50" y2="312.45" class="gr"/>
<line x1="459.50" y1="193.60" x2="459.50" y2="312.45" class="gr"/>
<line x1="471.50" y1="193.60" x2="471.50" y2="312.45" class="gr"/>
<line x1="483.50" y1="193.60" x2="483.50" y2="312.45" class="gr"/>
<line x1="495.50" y1="193.60" x2="495.50" y2="312.45" class="gr"/>
<line x1="507.50" y1="193.60" x2="507.50" y2="312.45" class="gr"/>
<line x1="519.50" y1="193.60" x2="519.50" y2="312.45" class="gr"/>
<line x1="531.50" y1="193.60" x2="531.50" y2="312.45" class="gr"/>
<line x1="435.00" y1="205.50" x2="548.80" y2="205.50" class="gr"/>
<line x1="435.00" y1="217.50" x2="548.80" y2="217.50" class="gr"/>
<line x1="435.00" y1="229.50" x2="548.80" y2="229.50" class="gr"/>
<line x1="435.00" y1="241.50" x2="548.80" y2="241.50" class="gr"/>
<line x1="435.00" y1="253.50" x2="548.80" y2="253.50" class="gr"/>
<line x1="435.00" y1="264.50" x2="548.80" y2="264.50" class="gr"/>
<line x1="435.00" y1="276.50" x2="548.80" y2="276.50" class="gr"/>
<line x1="435.00" y1="288.50" x2="548.80" y2="288.50" class="gr"/>
<line x1="435.00" y1="300.50" x2="548.80" y2="300.50" class="gr"/>
<path d="M435.00,312.45V193.60H548.80M435.00,312.45H548.80" class="fu"/>
<path d="M435.00,312.45V193.60H548.80" class="fr"/>
<path d="M435.00,312.45H548.80" class="fr"/>
<path d="M548.80,192.70V313.35" class="fs"/>
<line x1="435.00" y1="312.45" x2="435.00" y2="315.45" class="tk"/>
<line x1="447.07" y1="312.45" x2="447.07" y2="315.45" class="tk"/>
<line x1="459.14" y1="312.45" x2="459.14" y2="315.45" class="tk"/>
<line x1="471.21" y1="312.45" x2="471.21" y2="315.45" class="tk"/>
<line x1="483.28" y1="312.45" x2="483.28" y2="315.45" class="tk"/>
<line x1="495.35" y1="312.45" x2="495.35" y2="315.45" class="tk"/>
<line x1="507.42" y1="312.45" x2="507.42" y2="315.45" class="tk"/>
<line x1="519.49" y1="312.45" x2="519.49" y2="315.45" class="tk"/>
<line x1="531.56" y1="312.45" x2="531.56" y2="315.45" class="tk"/>
<line x1="543.63" y1="312.45" x2="543.63" y2="315.45" class="tk"/>
<text transform="translate(436.40,324.05) scale(0.88,1)" class="xl">−10</text>
<text transform="translate(447.17,324.05) scale(0.88,1)" class="xl">−5</text>
<text transform="translate(459.24,324.05) scale(0.88,1)" class="xl">0</text>
<text transform="translate(471.31,324.05) scale(0.88,1)" class="xl">5</text>
<text transform="translate(483.38,324.05) scale(0.88,1)" class="xl">10</text>
<text transform="translate(495.45,324.05) scale(0.88,1)" class="xl">15</text>
<text transform="translate(507.52,324.05) scale(0.88,1)" class="xl">20</text>
<text transform="translate(519.59,324.05) scale(0.88,1)" class="xl">25</text>
<text transform="translate(531.66,324.05) scale(0.88,1)" class="xl">30</text>
<text transform="translate(543.73,324.05) scale(0.88,1)" class="xl">35</text>
<line x1="431.80" y1="193.60" x2="435.00" y2="193.60" class="tk"/>
<text transform="translate(429.40,196.85) scale(0.92,1)" class="yl">0</text>
<line x1="431.80" y1="205.48" x2="435.00" y2="205.48" class="tk"/>
<text transform="translate(429.40,208.73) scale(0.92,1)" class="yl">500</text>
<line x1="431.80" y1="217.37" x2="435.00" y2="217.37" class="tk"/>
<text transform="translate(429.40,220.62) scale(0.92,1)" class="yl">1000</text>
<line x1="431.80" y1="229.25" x2="435.00" y2="229.25" class="tk"/>
<text transform="translate(429.40,232.50) scale(0.92,1)" class="yl">1500</text>
<line x1="431.80" y1="241.14" x2="435.00" y2="241.14" class="tk"/>
<text transform="translate(429.40,244.39) scale(0.92,1)" class="yl">2000</text>
<line x1="431.80" y1="253.02" x2="435.00" y2="253.02" class="tk"/>
<text transform="translate(429.40,256.27) scale(0.92,1)" class="yl">2500</text>
<line x1="431.80" y1="264.91" x2="435.00" y2="264.91" class="tk"/>
<text transform="translate(429.40,268.16) scale(0.92,1)" class="yl">3000</text>
<line x1="431.80" y1="276.79" x2="435.00" y2="276.79" class="tk"/>
<text transform="translate(429.40,280.04) scale(0.92,1)" class="yl">3500</text>
<line x1="431.80" y1="288.68" x2="435.00" y2="288.68" class="tk"/>
<text transform="translate(429.40,291.93) scale(0.92,1)" class="yl">4000</text>
<line x1="431.80" y1="300.56" x2="435.00" y2="300.56" class="tk"/>
<text transform="translate(429.40,303.81) scale(0.92,1)" class="yl">4500</text>
<line x1="431.80" y1="312.45" x2="435.00" y2="312.45" class="tk"/>
<text transform="translate(429.40,315.70) scale(0.92,1)" class="yl">5000</text>
<text x="486.40" y="189.30" font-size="11.8" text-anchor="middle" font-weight="bold" fill="#000" stroke="#000" >iLOVECLIM</text>
<line x1="566.50" y1="193.60" x2="566.50" y2="312.45" class="gr"/>
<line x1="579.50" y1="193.60" x2="579.50" y2="312.45" class="gr"/>
<line x1="591.50" y1="193.60" x2="591.50" y2="312.45" class="gr"/>
<line x1="603.50" y1="193.60" x2="603.50" y2="312.45" class="gr"/>
<line x1="615.50" y1="193.60" x2="615.50" y2="312.45" class="gr"/>
<line x1="627.50" y1="193.60" x2="627.50" y2="312.45" class="gr"/>
<line x1="639.50" y1="193.60" x2="639.50" y2="312.45" class="gr"/>
<line x1="651.50" y1="193.60" x2="651.50" y2="312.45" class="gr"/>
<line x1="554.90" y1="205.50" x2="668.70" y2="205.50" class="gr"/>
<line x1="554.90" y1="217.50" x2="668.70" y2="217.50" class="gr"/>
<line x1="554.90" y1="229.50" x2="668.70" y2="229.50" class="gr"/>
<line x1="554.90" y1="241.50" x2="668.70" y2="241.50" class="gr"/>
<line x1="554.90" y1="253.50" x2="668.70" y2="253.50" class="gr"/>
<line x1="554.90" y1="264.50" x2="668.70" y2="264.50" class="gr"/>
<line x1="554.90" y1="276.50" x2="668.70" y2="276.50" class="gr"/>
<line x1="554.90" y1="288.50" x2="668.70" y2="288.50" class="gr"/>
<line x1="554.90" y1="300.50" x2="668.70" y2="300.50" class="gr"/>
<path d="M554.90,312.45V193.60H668.70M554.90,312.45H668.70" class="fu"/>
<path d="M554.90,312.45V193.60H668.70" class="fr"/>
<path d="M554.90,312.45H668.70" class="fr"/>
<path d="M668.70,192.70V313.35" class="fs"/>
<line x1="554.90" y1="312.45" x2="554.90" y2="315.45" class="tk"/>
<line x1="566.97" y1="312.45" x2="566.97" y2="315.45" class="tk"/>
<line x1="579.04" y1="312.45" x2="579.04" y2="315.45" class="tk"/>
<line x1="591.11" y1="312.45" x2="591.11" y2="315.45" class="tk"/>
<line x1="603.18" y1="312.45" x2="603.18" y2="315.45" class="tk"/>
<line x1="615.25" y1="312.45" x2="615.25" y2="315.45" class="tk"/>
<line x1="627.32" y1="312.45" x2="627.32" y2="315.45" class="tk"/>
<line x1="639.39" y1="312.45" x2="639.39" y2="315.45" class="tk"/>
<line x1="651.46" y1="312.45" x2="651.46" y2="315.45" class="tk"/>
<line x1="663.53" y1="312.45" x2="663.53" y2="315.45" class="tk"/>
<text transform="translate(556.30,324.05) scale(0.88,1)" class="xl">−10</text>
<text transform="translate(567.07,324.05) scale(0.88,1)" class="xl">−5</text>
<text transform="translate(579.14,324.05) scale(0.88,1)" class="xl">0</text>
<text transform="translate(591.21,324.05) scale(0.88,1)" class="xl">5</text>
<text transform="translate(603.28,324.05) scale(0.88,1)" class="xl">10</text>
<text transform="translate(615.35,324.05) scale(0.88,1)" class="xl">15</text>
<text transform="translate(627.42,324.05) scale(0.88,1)" class="xl">20</text>
<text transform="translate(639.49,324.05) scale(0.88,1)" class="xl">25</text>
<text transform="translate(651.56,324.05) scale(0.88,1)" class="xl">30</text>
<text transform="translate(663.63,324.05) scale(0.88,1)" class="xl">35</text>
<text x="608.00" y="189.30" font-size="11.8" text-anchor="middle" font-weight="bold" fill="#000" stroke="#000" >INM-CM4-8</text>
<line x1="686.50" y1="193.60" x2="686.50" y2="312.45" class="gr"/>
<line x1="699.50" y1="193.60" x2="699.50" y2="312.45" class="gr"/>
<line x1="711.50" y1="193.60" x2="711.50" y2="312.45" class="gr"/>
<line x1="723.50" y1="193.60" x2="723.50" y2="312.45" class="gr"/>
<line x1="735.50" y1="193.60" x2="735.50" y2="312.45" class="gr"/>
<line x1="747.50" y1="193.60" x2="747.50" y2="312.45" class="gr"/>
<line x1="759.50" y1="193.60" x2="759.50" y2="312.45" class="gr"/>
<line x1="771.50" y1="193.60" x2="771.50" y2="312.45" class="gr"/>
<line x1="674.90" y1="205.50" x2="788.70" y2="205.50" class="gr"/>
<line x1="674.90" y1="217.50" x2="788.70" y2="217.50" class="gr"/>
<line x1="674.90" y1="229.50" x2="788.70" y2="229.50" class="gr"/>
<line x1="674.90" y1="241.50" x2="788.70" y2="241.50" class="gr"/>
<line x1="674.90" y1="253.50" x2="788.70" y2="253.50" class="gr"/>
<line x1="674.90" y1="264.50" x2="788.70" y2="264.50" class="gr"/>
<line x1="674.90" y1="276.50" x2="788.70" y2="276.50" class="gr"/>
<line x1="674.90" y1="288.50" x2="788.70" y2="288.50" class="gr"/>
<line x1="674.90" y1="300.50" x2="788.70" y2="300.50" class="gr"/>
<path d="M674.90,312.45V193.60H788.70M674.90,312.45H788.70" class="fu"/>
<path d="M674.90,312.45V193.60H788.70" class="fr"/>
<path d="M674.90,312.45H788.70" class="fr"/>
<path d="M788.70,192.70V313.35" class="fs"/>
<line x1="674.90" y1="312.45" x2="674.90" y2="315.45" class="tk"/>
<line x1="686.97" y1="312.45" x2="686.97" y2="315.45" class="tk"/>
<line x1="699.04" y1="312.45" x2="699.04" y2="315.45" class="tk"/>
<line x1="711.11" y1="312.45" x2="711.11" y2="315.45" class="tk"/>
<line x1="723.18" y1="312.45" x2="723.18" y2="315.45" class="tk"/>
<line x1="735.25" y1="312.45" x2="735.25" y2="315.45" class="tk"/>
<line x1="747.32" y1="312.45" x2="747.32" y2="315.45" class="tk"/>
<line x1="759.39" y1="312.45" x2="759.39" y2="315.45" class="tk"/>
<line x1="771.46" y1="312.45" x2="771.46" y2="315.45" class="tk"/>
<line x1="783.53" y1="312.45" x2="783.53" y2="315.45" class="tk"/>
<text transform="translate(676.30,324.05) scale(0.88,1)" class="xl">−10</text>
<text transform="translate(687.07,324.05) scale(0.88,1)" class="xl">−5</text>
<text transform="translate(699.14,324.05) scale(0.88,1)" class="xl">0</text>
<text transform="translate(711.21,324.05) scale(0.88,1)" class="xl">5</text>
<text transform="translate(723.28,324.05) scale(0.88,1)" class="xl">10</text>
<text transform="translate(735.35,324.05) scale(0.88,1)" class="xl">15</text>
<text transform="translate(747.42,324.05) scale(0.88,1)" class="xl">20</text>
<text transform="translate(759.49,324.05) scale(0.88,1)" class="xl">25</text>
<text transform="translate(771.56,324.05) scale(0.88,1)" class="xl">30</text>
<text transform="translate(783.63,324.05) scale(0.88,1)" class="xl">35</text>
<text x="730.80" y="189.30" font-size="11.8" text-anchor="middle" font-weight="bold" fill="#000" stroke="#000" >IPSL-CM5A2</text>
<line x1="447.50" y1="342.00" x2="447.50" y2="460.85" class="gr"/>
<line x1="459.50" y1="342.00" x2="459.50" y2="460.85" class="gr"/>
<line x1="471.50" y1="342.00" x2="471.50" y2="460.85" class="gr"/>
<line x1="483.50" y1="342.00" x2="483.50" y2="460.85" class="gr"/>
<line x1="495.50" y1="342.00" x2="495.50" y2="460.85" class="gr"/>
<line x1="507.50" y1="342.00" x2="507.50" y2="460.85" class="gr"/>
<line x1="519.50" y1="342.00" x2="519.50" y2="460.85" class="gr"/>
<line x1="531.50" y1="342.00" x2="531.50" y2="460.85" class="gr"/>
<line x1="435.00" y1="353.50" x2="548.80" y2="353.50" class="gr"/>
<line x1="435.00" y1="365.50" x2="548.80" y2="365.50" class="gr"/>
<line x1="435.00" y1="377.50" x2="548.80" y2="377.50" class="gr"/>
<line x1="435.00" y1="389.50" x2="548.80" y2="389.50" class="gr"/>
<line x1="435.00" y1="401.50" x2="548.80" y2="401.50" class="gr"/>
<line x1="435.00" y1="413.50" x2="548.80" y2="413.50" class="gr"/>
<line x1="435.00" y1="425.50" x2="548.80" y2="425.50" class="gr"/>
<line x1="435.00" y1="437.50" x2="548.80" y2="437.50" class="gr"/>
<line x1="435.00" y1="448.50" x2="548.80" y2="448.50" class="gr"/>
<path d="M435.00,460.85V342.00H548.80M435.00,460.85H548.80" class="fu"/>
<path d="M435.00,460.85V342.00H548.80" class="fr"/>
<path d="M435.00,460.85H548.80" class="fr"/>
<path d="M548.80,341.10V461.75" class="fs"/>
<line x1="435.00" y1="460.85" x2="435.00" y2="463.85" class="tk"/>
<line x1="447.07" y1="460.85" x2="447.07" y2="463.85" class="tk"/>
<line x1="459.14" y1="460.85" x2="459.14" y2="463.85" class="tk"/>
<line x1="471.21" y1="460.85" x2="471.21" y2="463.85" class="tk"/>
<line x1="483.28" y1="460.85" x2="483.28" y2="463.85" class="tk"/>
<line x1="495.35" y1="460.85" x2="495.35" y2="463.85" class="tk"/>
<line x1="507.42" y1="460.85" x2="507.42" y2="463.85" class="tk"/>
<line x1="519.49" y1="460.85" x2="519.49" y2="463.85" class="tk"/>
<line x1="531.56" y1="460.85" x2="531.56" y2="463.85" class="tk"/>
<line x1="543.63" y1="460.85" x2="543.63" y2="463.85" class="tk"/>
<text transform="translate(436.40,472.45) scale(0.88,1)" class="xl">−10</text>
<text transform="translate(447.17,472.45) scale(0.88,1)" class="xl">−5</text>
<text transform="translate(459.24,472.45) scale(0.88,1)" class="xl">0</text>
<text transform="translate(471.31,472.45) scale(0.88,1)" class="xl">5</text>
<text transform="translate(483.38,472.45) scale(0.88,1)" class="xl">10</text>
<text transform="translate(495.45,472.45) scale(0.88,1)" class="xl">15</text>
<text transform="translate(507.52,472.45) scale(0.88,1)" class="xl">20</text>
<text transform="translate(519.59,472.45) scale(0.88,1)" class="xl">25</text>
<text transform="translate(531.66,472.45) scale(0.88,1)" class="xl">30</text>
<text transform="translate(543.73,472.45) scale(0.88,1)" class="xl">35</text>
<line x1="431.80" y1="342.00" x2="435.00" y2="342.00" class="tk"/>
<text transform="translate(429.40,345.25) scale(0.92,1)" class="yl">0</text>
<line x1="431.80" y1="353.88" x2="435.00" y2="353.88" class="tk"/>
<text transform="translate(429.40,357.13) scale(0.92,1)" class="yl">500</text>
<line x1="431.80" y1="365.77" x2="435.00" y2="365.77" class="tk"/>
<text transform="translate(429.40,369.02) scale(0.92,1)" class="yl">1000</text>
<line x1="431.80" y1="377.65" x2="435.00" y2="377.65" class="tk"/>
<text transform="translate(429.40,380.90) scale(0.92,1)" class="yl">1500</text>
<line x1="431.80" y1="389.54" x2="435.00" y2="389.54" class="tk"/>
<text transform="translate(429.40,392.79) scale(0.92,1)" class="yl">2000</text>
<line x1="431.80" y1="401.43" x2="435.00" y2="401.43" class="tk"/>
<text transform="translate(429.40,404.68) scale(0.92,1)" class="yl">2500</text>
<line x1="431.80" y1="413.31" x2="435.00" y2="413.31" class="tk"/>
<text transform="translate(429.40,416.56) scale(0.92,1)" class="yl">3000</text>
<line x1="431.80" y1="425.19" x2="435.00" y2="425.19" class="tk"/>
<text transform="translate(429.40,428.44) scale(0.92,1)" class="yl">3500</text>
<line x1="431.80" y1="437.08" x2="435.00" y2="437.08" class="tk"/>
<text transform="translate(429.40,440.33) scale(0.92,1)" class="yl">4000</text>
<line x1="431.80" y1="448.96" x2="435.00" y2="448.96" class="tk"/>
<text transform="translate(429.40,452.21) scale(0.92,1)" class="yl">4500</text>
<line x1="431.80" y1="460.85" x2="435.00" y2="460.85" class="tk"/>
<text transform="translate(429.40,464.10) scale(0.92,1)" class="yl">5000</text>
<text x="484.80" y="338.20" font-size="11.8" text-anchor="middle" font-weight="bold" fill="#000" stroke="#000" >MIROC-ES2L</text>
<line x1="566.50" y1="342.00" x2="566.50" y2="460.85" class="gr"/>
<line x1="579.50" y1="342.00" x2="579.50" y2="460.85" class="gr"/>
<line x1="591.50" y1="342.00" x2="591.50" y2="460.85" class="gr"/>
<line x1="603.50" y1="342.00" x2="603.50" y2="460.85" class="gr"/>
<line x1="615.50" y1="342.00" x2="615.50" y2="460.85" class="gr"/>
<line x1="627.50" y1="342.00" x2="627.50" y2="460.85" class="gr"/>
<line x1="639.50" y1="342.00" x2="639.50" y2="460.85" class="gr"/>
<line x1="651.50" y1="342.00" x2="651.50" y2="460.85" class="gr"/>
<line x1="554.90" y1="353.50" x2="668.70" y2="353.50" class="gr"/>
<line x1="554.90" y1="365.50" x2="668.70" y2="365.50" class="gr"/>
<line x1="554.90" y1="377.50" x2="668.70" y2="377.50" class="gr"/>
<line x1="554.90" y1="389.50" x2="668.70" y2="389.50" class="gr"/>
<line x1="554.90" y1="401.50" x2="668.70" y2="401.50" class="gr"/>
<line x1="554.90" y1="413.50" x2="668.70" y2="413.50" class="gr"/>
<line x1="554.90" y1="425.50" x2="668.70" y2="425.50" class="gr"/>
<line x1="554.90" y1="437.50" x2="668.70" y2="437.50" class="gr"/>
<line x1="554.90" y1="448.50" x2="668.70" y2="448.50" class="gr"/>
<path d="M554.90,460.85V342.00H668.70M554.90,460.85H668.70" class="fu"/>
<path d="M554.90,460.85V342.00H668.70" class="fr"/>
<path d="M554.90,460.85H668.70" class="fr"/>
<path d="M668.70,341.10V461.75" class="fs"/>
<line x1="554.90" y1="460.85" x2="554.90" y2="463.85" class="tk"/>
<line x1="566.97" y1="460.85" x2="566.97" y2="463.85" class="tk"/>
<line x1="579.04" y1="460.85" x2="579.04" y2="463.85" class="tk"/>
<line x1="591.11" y1="460.85" x2="591.11" y2="463.85" class="tk"/>
<line x1="603.18" y1="460.85" x2="603.18" y2="463.85" class="tk"/>
<line x1="615.25" y1="460.85" x2="615.25" y2="463.85" class="tk"/>
<line x1="627.32" y1="460.85" x2="627.32" y2="463.85" class="tk"/>
<line x1="639.39" y1="460.85" x2="639.39" y2="463.85" class="tk"/>
<line x1="651.46" y1="460.85" x2="651.46" y2="463.85" class="tk"/>
<line x1="663.53" y1="460.85" x2="663.53" y2="463.85" class="tk"/>
<text transform="translate(556.30,472.45) scale(0.88,1)" class="xl">−10</text>
<text transform="translate(567.07,472.45) scale(0.88,1)" class="xl">−5</text>
<text transform="translate(579.14,472.45) scale(0.88,1)" class="xl">0</text>
<text transform="translate(591.21,472.45) scale(0.88,1)" class="xl">5</text>
<text transform="translate(603.28,472.45) scale(0.88,1)" class="xl">10</text>
<text transform="translate(615.35,472.45) scale(0.88,1)" class="xl">15</text>
<text transform="translate(627.42,472.45) scale(0.88,1)" class="xl">20</text>
<text transform="translate(639.49,472.45) scale(0.88,1)" class="xl">25</text>
<text transform="translate(651.56,472.45) scale(0.88,1)" class="xl">30</text>
<text transform="translate(663.63,472.45) scale(0.88,1)" class="xl">35</text>
<text x="608.10" y="338.20" font-size="11.8" text-anchor="middle" font-weight="bold" fill="#000" stroke="#000" >MPI-ESM-1.2</text>
<line x1="686.50" y1="342.00" x2="686.50" y2="460.85" class="gr"/>
<line x1="699.50" y1="342.00" x2="699.50" y2="460.85" class="gr"/>
<line x1="711.50" y1="342.00" x2="711.50" y2="460.85" class="gr"/>
<line x1="723.50" y1="342.00" x2="723.50" y2="460.85" class="gr"/>
<line x1="735.50" y1="342.00" x2="735.50" y2="460.85" class="gr"/>
<line x1="747.50" y1="342.00" x2="747.50" y2="460.85" class="gr"/>
<line x1="759.50" y1="342.00" x2="759.50" y2="460.85" class="gr"/>
<line x1="771.50" y1="342.00" x2="771.50" y2="460.85" class="gr"/>
<line x1="674.90" y1="353.50" x2="788.70" y2="353.50" class="gr"/>
<line x1="674.90" y1="365.50" x2="788.70" y2="365.50" class="gr"/>
<line x1="674.90" y1="377.50" x2="788.70" y2="377.50" class="gr"/>
<line x1="674.90" y1="389.50" x2="788.70" y2="389.50" class="gr"/>
<line x1="674.90" y1="401.50" x2="788.70" y2="401.50" class="gr"/>
<line x1="674.90" y1="413.50" x2="788.70" y2="413.50" class="gr"/>
<line x1="674.90" y1="425.50" x2="788.70" y2="425.50" class="gr"/>
<line x1="674.90" y1="437.50" x2="788.70" y2="437.50" class="gr"/>
<line x1="674.90" y1="448.50" x2="788.70" y2="448.50" class="gr"/>
<path d="M674.90,460.85V342.00H788.70M674.90,460.85H788.70" class="fu"/>
<path d="M674.90,460.85V342.00H788.70" class="fr"/>
<path d="M674.90,460.85H788.70" class="fr"/>
<path d="M788.70,341.10V461.75" class="fs"/>
<line x1="674.90" y1="460.85" x2="674.90" y2="463.85" class="tk"/>
<line x1="686.97" y1="460.85" x2="686.97" y2="463.85" class="tk"/>
<line x1="699.04" y1="460.85" x2="699.04" y2="463.85" class="tk"/>
<line x1="711.11" y1="460.85" x2="711.11" y2="463.85" class="tk"/>
<line x1="723.18" y1="460.85" x2="723.18" y2="463.85" class="tk"/>
<line x1="735.25" y1="460.85" x2="735.25" y2="463.85" class="tk"/>
<line x1="747.32" y1="460.85" x2="747.32" y2="463.85" class="tk"/>
<line x1="759.39" y1="460.85" x2="759.39" y2="463.85" class="tk"/>
<line x1="771.46" y1="460.85" x2="771.46" y2="463.85" class="tk"/>
<line x1="783.53" y1="460.85" x2="783.53" y2="463.85" class="tk"/>
<text transform="translate(676.30,472.45) scale(0.88,1)" class="xl">−10</text>
<text transform="translate(687.07,472.45) scale(0.88,1)" class="xl">−5</text>
<text transform="translate(699.14,472.45) scale(0.88,1)" class="xl">0</text>
<text transform="translate(711.21,472.45) scale(0.88,1)" class="xl">5</text>
<text transform="translate(723.28,472.45) scale(0.88,1)" class="xl">10</text>
<text transform="translate(735.35,472.45) scale(0.88,1)" class="xl">15</text>
<text transform="translate(747.42,472.45) scale(0.88,1)" class="xl">20</text>
<text transform="translate(759.49,472.45) scale(0.88,1)" class="xl">25</text>
<text transform="translate(771.56,472.45) scale(0.88,1)" class="xl">30</text>
<text transform="translate(783.63,472.45) scale(0.88,1)" class="xl">35</text>
<text x="730.60" y="338.20" font-size="11.8" text-anchor="middle" font-weight="bold" fill="#000" stroke="#000" >UoT-CCSM4</text>
<line x1="445.50" y1="495.40" x2="445.50" y2="614.60" class="gr"/>
<line x1="457.50" y1="495.40" x2="457.50" y2="614.60" class="gr"/>
<line x1="469.50" y1="495.40" x2="469.50" y2="614.60" class="gr"/>
<line x1="481.50" y1="495.40" x2="481.50" y2="614.60" class="gr"/>
<line x1="493.50" y1="495.40" x2="493.50" y2="614.60" class="gr"/>
<line x1="505.50" y1="495.40" x2="505.50" y2="614.60" class="gr"/>
<line x1="517.50" y1="495.40" x2="517.50" y2="614.60" class="gr"/>
<line x1="529.50" y1="495.40" x2="529.50" y2="614.60" class="gr"/>
<line x1="433.10" y1="507.50" x2="547.20" y2="507.50" class="gr"/>
<line x1="433.10" y1="519.50" x2="547.20" y2="519.50" class="gr"/>
<line x1="433.10" y1="531.50" x2="547.20" y2="531.50" class="gr"/>
<line x1="433.10" y1="543.50" x2="547.20" y2="543.50" class="gr"/>
<line x1="433.10" y1="555.50" x2="547.20" y2="555.50" class="gr"/>
<line x1="433.10" y1="566.50" x2="547.20" y2="566.50" class="gr"/>
<line x1="433.10" y1="578.50" x2="547.20" y2="578.50" class="gr"/>
<line x1="433.10" y1="590.50" x2="547.20" y2="590.50" class="gr"/>
<line x1="433.10" y1="602.50" x2="547.20" y2="602.50" class="gr"/>
<path d="M433.10,614.60V495.40H547.20M433.10,614.60H547.20" class="fu"/>
<path d="M433.10,614.60V495.40H547.20" class="fr"/>
<path d="M433.10,614.60H547.20" class="fr"/>
<path d="M547.20,494.50V615.50" class="fs"/>
<line x1="433.10" y1="614.60" x2="433.10" y2="617.60" class="tk"/>
<line x1="445.17" y1="614.60" x2="445.17" y2="617.60" class="tk"/>
<line x1="457.24" y1="614.60" x2="457.24" y2="617.60" class="tk"/>
<line x1="469.31" y1="614.60" x2="469.31" y2="617.60" class="tk"/>
<line x1="481.38" y1="614.60" x2="481.38" y2="617.60" class="tk"/>
<line x1="493.45" y1="614.60" x2="493.45" y2="617.60" class="tk"/>
<line x1="505.52" y1="614.60" x2="505.52" y2="617.60" class="tk"/>
<line x1="517.59" y1="614.60" x2="517.59" y2="617.60" class="tk"/>
<line x1="529.66" y1="614.60" x2="529.66" y2="617.60" class="tk"/>
<line x1="541.73" y1="614.60" x2="541.73" y2="617.60" class="tk"/>
<text transform="translate(434.50,626.20) scale(0.88,1)" class="xl">−10</text>
<text transform="translate(445.27,626.20) scale(0.88,1)" class="xl">−5</text>
<text transform="translate(457.34,626.20) scale(0.88,1)" class="xl">0</text>
<text transform="translate(469.41,626.20) scale(0.88,1)" class="xl">5</text>
<text transform="translate(481.48,626.20) scale(0.88,1)" class="xl">10</text>
<text transform="translate(493.55,626.20) scale(0.88,1)" class="xl">15</text>
<text transform="translate(505.62,626.20) scale(0.88,1)" class="xl">20</text>
<text transform="translate(517.69,626.20) scale(0.88,1)" class="xl">25</text>
<text transform="translate(529.76,626.20) scale(0.88,1)" class="xl">30</text>
<text transform="translate(541.83,626.20) scale(0.88,1)" class="xl">35</text>
<line x1="429.90" y1="495.40" x2="433.10" y2="495.40" class="tk"/>
<text transform="translate(427.50,498.65) scale(0.92,1)" class="yl">0</text>
<line x1="429.90" y1="507.32" x2="433.10" y2="507.32" class="tk"/>
<text transform="translate(427.50,510.57) scale(0.92,1)" class="yl">500</text>
<line x1="429.90" y1="519.24" x2="433.10" y2="519.24" class="tk"/>
<text transform="translate(427.50,522.49) scale(0.92,1)" class="yl">1000</text>
<line x1="429.90" y1="531.16" x2="433.10" y2="531.16" class="tk"/>
<text transform="translate(427.50,534.41) scale(0.92,1)" class="yl">1500</text>
<line x1="429.90" y1="543.08" x2="433.10" y2="543.08" class="tk"/>
<text transform="translate(427.50,546.33) scale(0.92,1)" class="yl">2000</text>
<line x1="429.90" y1="555.00" x2="433.10" y2="555.00" class="tk"/>
<text transform="translate(427.50,558.25) scale(0.92,1)" class="yl">2500</text>
<line x1="429.90" y1="566.92" x2="433.10" y2="566.92" class="tk"/>
<text transform="translate(427.50,570.17) scale(0.92,1)" class="yl">3000</text>
<line x1="429.90" y1="578.84" x2="433.10" y2="578.84" class="tk"/>
<text transform="translate(427.50,582.09) scale(0.92,1)" class="yl">3500</text>
<line x1="429.90" y1="590.76" x2="433.10" y2="590.76" class="tk"/>
<text transform="translate(427.50,594.01) scale(0.92,1)" class="yl">4000</text>
<line x1="429.90" y1="602.68" x2="433.10" y2="602.68" class="tk"/>
<text transform="translate(427.50,605.93) scale(0.92,1)" class="yl">4500</text>
<line x1="429.90" y1="614.60" x2="433.10" y2="614.60" class="tk"/>
<text transform="translate(427.50,617.85) scale(0.92,1)" class="yl">5000</text>
<text x="489.10" y="491.50" font-size="11.8" text-anchor="middle" font-weight="bold" fill="#000" stroke="#000" >HadCM3</text>
<text x="144.00" y="11.30" font-size="14.8" text-anchor="start" font-weight="bold" fill="#000" stroke="#000" >PMIP3_AMOC_30N</text>
<text x="529.70" y="11.30" font-size="14.8" text-anchor="start" font-weight="bold" fill="#000" stroke="#000" >PMIP4_AMOC_30N</text>
<text x="0" y="0" font-size="11.6" font-weight="bold" text-anchor="middle" stroke="#000" transform="translate(10.4,107.70) rotate(-90)">Depth [m]</text>
<text x="0" y="0" font-size="11.6" font-weight="bold" text-anchor="middle" stroke="#000" transform="translate(10.4,253.00) rotate(-90)">Depth [m]</text>
<text x="0" y="0" font-size="11.6" font-weight="bold" text-anchor="middle" stroke="#000" transform="translate(10.4,401.30) rotate(-90)">Depth [m]</text>
<text x="219.20" y="339.20" font-size="11.8" text-anchor="middle" font-weight="bold" fill="#000" stroke="#000" >AMOC [Sv]</text>
<text x="339.20" y="339.20" font-size="11.8" text-anchor="middle" font-weight="bold" fill="#000" stroke="#000" >AMOC [Sv]</text>
<text x="101.90" y="490.40" font-size="11.8" text-anchor="middle" font-weight="bold" fill="#000" stroke="#000" >AMOC [Sv]</text>
<text x="608.50" y="490.00" font-size="11.8" text-anchor="middle" font-weight="bold" fill="#000" stroke="#000" >AMOC [Sv]</text>
<text x="730.30" y="490.00" font-size="11.8" text-anchor="middle" font-weight="bold" fill="#000" stroke="#000" >AMOC [Sv]</text>
<text x="490.00" y="643.10" font-size="11.8" text-anchor="middle" font-weight="bold" fill="#000" stroke="#000" >AMOC [Sv]</text>
<rect x="226.5" y="378.1" width="112.4" height="42.7" fill="none" stroke="#000" stroke-width="2"/>
<line x1="240.6" y1="393.9" x2="288.1" y2="393.9" stroke="#000" stroke-width="2"/>
<line x1="241.5" y1="407.6" x2="287" y2="407.6" stroke="#000" stroke-width="2" stroke-dasharray="5 3.1"/>
<text x="311.20" y="397.70" font-size="11.2" text-anchor="middle" font-weight="bold" fill="#000" stroke="#000" >LGM</text>
<text x="311.50" y="411.40" font-size="11.2" text-anchor="middle" font-weight="bold" fill="#000" stroke="#000" >PI</text>
<path d="M73.40,45.28 C78.47,47.21 96.36,53.30 103.81,56.88 C111.25,60.46 115.36,64.32 118.06,66.76 C120.75,69.20 119.80,69.77 119.96,71.52 C120.11,73.26 119.80,75.32 119.01,77.22 C118.21,79.12 118.37,80.23 115.21,82.92 C112.04,85.62 104.44,89.73 100.00,93.38 C95.57,97.02 91.93,100.98 88.60,104.79 C85.28,108.59 82.33,113.02 80.05,116.19 C77.77,119.36 76.19,120.79 74.92,123.80 C73.66,126.81 73.09,130.61 72.45,134.25 C71.82,137.90 71.53,141.54 71.12,145.66 C70.71,149.78 70.24,155.96 69.98,158.97 C69.73,161.98 69.67,162.93 69.60,163.72" class="cd"/>
<path d="M73.40,45.28 C75.62,46.17 81.64,48.67 86.70,50.60 C91.77,52.54 99.37,54.82 103.81,56.88 C108.24,58.94 110.77,61.16 113.31,62.96 C115.84,64.77 117.49,65.97 119.01,67.71 C120.53,69.46 121.79,71.67 122.43,73.42 C123.06,75.16 123.22,76.43 122.81,78.17 C122.40,79.91 122.49,81.34 119.96,83.87 C117.42,86.41 112.04,89.96 107.61,93.38 C103.17,96.80 97.79,100.60 93.35,104.40 C88.92,108.21 84.33,112.80 81.00,116.19 C77.68,119.58 75.62,121.74 73.40,124.75 C71.19,127.76 69.22,131.08 67.70,134.25 C66.18,137.42 64.92,140.59 64.28,143.76 C63.65,146.93 63.59,149.94 63.90,153.26 C64.22,156.59 65.80,161.98 66.18,163.72" class="cs"/>
<path d="M191.50,45.28 C194.04,46.01 202.27,47.82 206.70,49.65 C211.14,51.49 215.25,54.25 218.10,56.31 C220.95,58.37 223.33,60.11 223.81,62.01 C224.28,63.91 222.54,65.34 220.95,67.71 C219.37,70.09 217.00,72.78 214.30,76.27 C211.61,79.75 207.65,84.67 204.80,88.63 C201.95,92.59 199.42,95.91 197.20,100.03 C194.99,104.15 192.93,109.22 191.50,113.34 C190.08,117.46 189.29,121.26 188.65,124.75 C188.02,128.23 187.77,130.13 187.70,134.25 C187.64,138.37 188.05,144.55 188.27,149.46 C188.49,154.37 188.91,161.34 189.03,163.72" class="cd"/>
<path d="M191.50,45.28 C194.99,46.17 206.70,49.02 212.40,50.60 C218.10,52.19 221.27,53.36 225.71,54.79 C230.14,56.21 235.52,57.64 239.01,59.16 C242.49,60.68 245.02,62.17 246.61,63.91 C248.19,65.65 248.35,67.56 248.51,69.62 C248.67,71.67 248.19,73.73 247.56,76.27 C246.92,78.80 246.13,81.50 244.71,84.82 C243.28,88.15 241.22,92.43 239.01,96.23 C236.79,100.03 234.26,103.52 231.41,107.64 C228.56,111.76 225.07,116.51 221.90,120.94 C218.74,125.38 215.41,129.82 212.40,134.25 C209.40,138.69 206.55,142.65 203.85,147.56 C201.16,152.47 197.52,161.03 196.25,163.72" class="cs"/>
<path d="M309.60,45.28 C313.09,46.01 323.85,47.97 330.50,49.65 C337.15,51.33 344.76,53.46 349.51,55.36 C354.26,57.26 356.47,58.84 359.01,61.06 C361.54,63.28 364.07,65.97 364.71,68.66 C365.34,71.36 363.92,73.58 362.81,77.22 C361.70,80.86 360.27,86.41 358.06,90.53 C355.84,94.65 353.15,97.81 349.51,101.93 C345.86,106.05 340.95,111.12 336.20,115.24 C331.45,119.36 325.75,123.16 321.00,126.65 C316.25,130.13 311.19,133.46 307.70,136.15 C304.22,138.85 301.75,140.59 300.10,142.81 C298.45,145.02 297.98,146.61 297.82,149.46 C297.66,152.31 298.93,158.17 299.15,159.92" class="cd"/>
<path d="M309.60,45.28 C313.09,46.01 322.90,48.13 330.50,49.65 C338.10,51.17 347.92,52.98 355.21,54.41 C362.49,55.83 368.82,56.94 374.21,58.21 C379.59,59.48 384.03,60.43 387.51,62.01 C390.99,63.60 393.59,66.13 395.11,67.71 C396.63,69.30 396.63,69.77 396.63,71.52 C396.63,73.26 396.31,75.64 395.11,78.17 C393.91,80.70 392.45,82.76 389.41,86.72 C386.37,90.69 380.92,97.02 376.87,101.93 C372.81,106.84 370.72,110.90 365.09,116.19 C359.45,121.48 350.11,127.98 343.05,133.68 C335.98,139.38 328.29,145.40 322.71,150.41 C317.14,155.42 311.79,161.50 309.60,163.72" class="cs"/>
<path d="M461.60,45.10 L474.00,48.70 L479.20,50.80 L483.30,52.30 L488.50,56.00 L490.20,59.50 L492.20,64.20 L491.50,71.00 L490.10,78.80 L487.50,83.90 L478.20,94.80 L475.10,100.00 L469.40,109.30 L466.00,116.00 L463.30,121.50 L461.40,127.00 L459.80,132.50 L458.70,138.10 L458.00,144.00 L457.70,149.50 L457.60,156.00 L457.70,163.80" class="cd"/>
<path d="M460.50,44.60 L461.60,47.10 L465.70,49.20 L476.10,52.30 L484.40,54.90 L490.60,57.00 L495.80,58.50 L496.30,60.10 L495.30,61.70 L498.90,64.20 L498.40,69.90 L495.80,74.10 L491.60,80.30 L486.50,86.50 L479.20,94.80 L475.10,101.00 L468.80,110.00 L466.30,115.30 L463.50,121.00 L461.50,126.70 L459.80,132.50 L458.70,138.10 L458.00,144.00 L457.70,149.50 L457.60,156.00 L457.70,163.80" class="cs"/>
<path d="M579.60,45.28 C580.71,46.01 583.40,48.29 586.25,49.65 C589.10,51.02 593.70,52.03 596.70,53.46 C599.71,54.88 602.09,56.78 604.30,58.21 C606.52,59.63 609.37,60.43 610.00,62.01 C610.64,63.60 608.74,65.81 608.10,67.71 C607.47,69.62 607.31,70.88 606.20,73.42 C605.10,75.95 603.51,79.75 601.45,82.92 C599.40,86.09 596.70,89.26 593.85,92.43 C591.00,95.60 587.04,98.77 584.35,101.93 C581.66,105.10 579.44,108.59 577.70,111.44 C575.96,114.29 574.69,115.87 573.90,119.04 C573.11,122.21 572.95,126.65 572.95,130.45 C572.95,134.25 573.27,138.05 573.90,141.86 C574.54,145.66 575.96,149.62 576.75,153.26 C577.54,156.91 578.34,161.98 578.65,163.72" class="cd"/>
<path d="M579.60,45.28 C581.82,45.85 588.47,47.50 592.90,48.70 C597.34,49.91 602.09,51.08 606.20,52.51 C610.32,53.93 614.50,55.67 617.61,57.26 C620.71,58.84 623.40,60.27 624.83,62.01 C626.25,63.75 626.41,65.65 626.16,67.71 C625.90,69.77 625.05,71.67 623.31,74.37 C621.56,77.06 618.87,80.70 615.71,83.87 C612.54,87.04 608.42,90.05 604.30,93.38 C600.19,96.71 594.80,100.67 591.00,103.83 C587.20,107.00 584.19,109.54 581.50,112.39 C578.81,115.24 576.28,117.93 574.85,120.94 C573.43,123.95 573.11,126.96 572.95,130.45 C572.79,133.94 573.27,138.05 573.90,141.86 C574.54,145.66 575.96,149.62 576.75,153.26 C577.54,156.91 578.34,161.98 578.65,163.72" class="cs"/>
<path d="M703.44,45.28 C705.66,45.85 712.32,47.18 716.76,48.70 C721.20,50.22 726.27,52.35 730.07,54.41 C733.88,56.47 736.95,59.00 739.59,61.06 C742.22,63.12 744.85,65.02 745.86,66.76 C746.88,68.51 746.24,69.77 745.67,71.52 C745.10,73.26 744.40,75.00 742.44,77.22 C740.47,79.44 737.21,82.29 733.88,84.82 C730.55,87.36 726.27,89.73 722.46,92.43 C718.66,95.12 714.38,98.13 711.05,100.98 C707.72,103.83 704.87,106.69 702.49,109.54 C700.11,112.39 698.05,115.24 696.78,118.09 C695.51,120.94 695.20,123.64 694.88,126.65 C694.56,129.66 694.72,132.98 694.88,136.15 C695.04,139.32 695.45,142.49 695.83,145.66 C696.21,148.83 696.78,152.15 697.16,155.16 C697.54,158.17 697.95,162.29 698.11,163.72" class="cd"/>
<path d="M702.49,45.28 C704.55,45.85 710.57,47.18 714.85,48.70 C719.13,50.22 724.37,52.51 728.17,54.41 C731.98,56.31 735.15,58.37 737.68,60.11 C740.22,61.85 742.28,63.28 743.39,64.86 C744.50,66.45 744.82,67.71 744.34,69.62 C743.87,71.52 742.60,74.05 740.54,76.27 C738.48,78.49 735.30,80.55 731.98,82.92 C728.65,85.30 724.37,87.83 720.56,90.53 C716.76,93.22 712.48,96.23 709.15,99.08 C705.82,101.93 702.87,104.79 700.59,107.64 C698.30,110.49 696.62,113.34 695.45,116.19 C694.28,119.04 693.86,121.74 693.55,124.75 C693.23,127.76 693.32,130.77 693.55,134.25 C693.77,137.74 694.34,142.17 694.88,145.66 C695.42,149.14 696.24,152.15 696.78,155.16 C697.32,158.17 697.89,162.29 698.11,163.72" class="cs"/>
<path d="M69.60,194.28 C69.92,194.85 69.92,196.34 71.50,197.70 C73.09,199.07 76.73,200.87 79.10,202.46 C81.48,204.04 84.01,205.15 85.75,207.21 C87.50,209.27 89.08,211.80 89.55,214.81 C90.03,217.82 89.71,221.78 88.60,225.27 C87.50,228.75 85.12,232.40 82.90,235.72 C80.69,239.05 77.52,242.06 75.30,245.23 C73.09,248.40 71.19,250.93 69.60,254.74 C68.02,258.54 66.91,263.61 65.80,268.04 C64.69,272.48 63.65,277.23 62.95,281.35 C62.25,285.47 61.62,289.27 61.62,292.76 C61.62,296.24 62.25,299.73 62.95,302.26 C63.65,304.80 65.17,306.22 65.80,307.97 C66.44,309.71 66.59,311.93 66.75,312.72" class="cd"/>
<path d="M69.60,194.28 C69.67,194.69 69.35,195.87 69.98,196.75 C70.62,197.64 71.25,198.65 73.40,199.60 C75.56,200.55 78.47,201.35 82.90,202.46 C87.34,203.56 93.99,204.83 100.00,206.26 C106.02,207.68 113.62,209.27 119.01,211.01 C124.39,212.75 128.98,214.81 132.31,216.71 C135.63,218.62 137.53,220.52 138.96,222.42 C140.38,224.32 141.97,225.05 140.86,228.12 C139.75,231.19 136.14,235.91 132.31,240.86 C128.48,245.80 122.71,252.30 117.87,257.78 C113.02,263.26 108.11,268.68 103.24,273.75 C98.36,278.82 92.97,283.60 88.60,288.19 C84.23,292.79 79.93,297.83 77.01,301.31 C74.10,304.80 72.36,307.21 71.12,309.11 C69.89,311.01 69.86,312.12 69.60,312.72" class="cs"/>
<path d="M193.40,194.28 C194.99,195.17 199.42,197.77 202.90,199.60 C206.39,201.44 211.14,203.41 214.30,205.31 C217.47,207.21 220.32,208.79 221.90,211.01 C223.49,213.23 224.12,215.76 223.81,218.62 C223.49,221.47 222.06,224.79 220.00,228.12 C217.95,231.45 214.62,235.09 211.45,238.58 C208.29,242.06 204.33,245.39 201.00,249.03 C197.68,252.68 194.04,256.64 191.50,260.44 C188.97,264.24 187.13,268.04 185.80,271.85 C184.47,275.65 183.68,279.45 183.52,283.25 C183.36,287.05 184.16,290.86 184.85,294.66 C185.55,298.46 186.91,303.05 187.70,306.06 C188.49,309.07 189.29,311.61 189.60,312.72" class="cd"/>
<path d="M193.40,194.28 C194.99,195.01 198.79,197.13 202.90,198.65 C207.02,200.17 213.04,201.51 218.10,203.41 C223.17,205.31 229.19,207.68 233.31,210.06 C237.42,212.44 240.59,215.13 242.81,217.66 C245.02,220.20 246.04,222.89 246.61,225.27 C247.18,227.65 247.18,229.23 246.23,231.92 C245.28,234.62 243.69,237.94 240.91,241.43 C238.12,244.91 233.62,248.72 229.51,252.83 C225.39,256.95 220.32,261.71 216.20,266.14 C212.09,270.58 207.97,275.01 204.80,279.45 C201.64,283.89 199.26,288.64 197.20,292.76 C195.14,296.88 193.66,300.84 192.45,304.16 C191.25,307.49 190.39,311.29 189.98,312.72" class="cs"/>
<path d="M308.65,194.28 C309.44,195.01 310.71,197.29 313.40,198.65 C316.09,200.02 320.37,200.87 324.80,202.46 C329.24,204.04 335.57,206.42 340.00,208.16 C344.44,209.90 348.71,211.33 351.41,212.91 C354.10,214.50 355.52,216.08 356.16,217.66 C356.79,219.25 356.47,220.67 355.21,222.42 C353.94,224.16 351.72,225.59 348.56,228.12 C345.39,230.66 340.16,234.46 336.20,237.63 C332.25,240.79 328.29,243.96 324.80,247.13 C321.32,250.30 318.15,253.63 315.30,256.64 C312.45,259.65 309.76,262.02 307.70,265.19 C305.64,268.36 303.97,272.32 302.95,275.65 C301.94,278.97 301.72,281.67 301.62,285.15 C301.53,288.64 301.94,293.07 302.38,296.56 C302.83,300.04 303.71,303.37 304.28,306.06 C304.85,308.76 305.55,311.61 305.80,312.72" class="cd"/>
<path d="M308.65,194.28 C309.13,194.85 309.44,196.50 311.50,197.70 C313.56,198.91 316.89,200.08 321.00,201.51 C325.12,202.93 331.45,204.67 336.20,206.26 C340.95,207.84 345.71,209.59 349.51,211.01 C353.31,212.44 356.79,213.39 359.01,214.81 C361.22,216.24 362.81,217.82 362.81,219.57 C362.81,221.31 361.54,223.05 359.01,225.27 C356.47,227.49 351.72,230.02 347.61,232.87 C343.49,235.72 338.74,239.05 334.30,242.38 C329.87,245.71 325.12,249.35 321.00,252.83 C316.89,256.32 312.52,259.81 309.60,263.29 C306.69,266.78 304.85,270.42 303.52,273.75 C302.19,277.07 301.87,279.77 301.62,283.25 C301.37,286.74 301.62,291.17 302.00,294.66 C302.38,298.14 303.27,301.15 303.90,304.16 C304.54,307.17 305.49,311.29 305.80,312.72" class="cs"/>
<path d="M460.30,194.90 L465.70,199.80 L477.80,205.60 L482.70,210.00 L485.80,215.40 L485.40,222.20 L480.80,228.00 L470.10,239.70 L460.60,250.00 L456.10,254.50 L449.60,263.10 L446.60,274.10 L445.60,279.10 L447.60,294.20 L449.10,299.20 L455.10,312.30 L455.60,313.30" class="cd"/>
<path d="M463.50,194.60 L466.50,198.30 L476.00,203.20 L484.00,207.40 L496.00,217.00 L502.50,222.30 L505.70,233.40 L503.90,245.50 L497.80,254.70 L494.10,259.40 L482.20,276.10 L468.20,295.20 L466.20,301.30 L463.60,311.30 L462.50,313.30" class="cs"/>
<path d="M463.20,194.40 L466.20,197.80 L475.90,202.70 L483.90,207.00 L496.00,216.70 L502.00,222.30 L504.80,231.50 L503.40,241.70 L497.80,251.90 L495.00,254.50 L478.20,277.10 L464.10,295.20 L462.10,301.30 L458.60,311.30 L457.90,313.30" class="cr"/>
<path d="M581.50,194.28 C584.04,195.17 591.95,198.08 596.70,199.60 C601.45,201.13 606.20,202.30 610.00,203.41 C613.81,204.52 617.04,204.83 619.51,206.26 C621.98,207.68 624.03,210.06 624.83,211.96 C625.62,213.86 625.46,215.45 624.26,217.66 C623.05,219.88 620.61,222.42 617.61,225.27 C614.60,228.12 610.00,231.76 606.20,234.77 C602.40,237.78 597.97,240.32 594.80,243.33 C591.64,246.34 588.63,248.72 587.20,252.83 C585.78,256.95 586.57,262.97 586.25,268.04 C585.94,273.11 585.78,278.18 585.30,283.25 C584.83,288.32 583.88,295.29 583.40,298.46 C582.93,301.63 582.45,301.00 582.45,302.26 C582.45,303.53 583.24,305.43 583.40,306.06" class="cd"/>
<path d="M581.50,194.28 C583.09,195.01 587.52,197.13 591.00,198.65 C594.49,200.17 598.92,201.66 602.40,203.41 C605.89,205.15 609.37,207.21 611.90,209.11 C614.44,211.01 616.34,212.60 617.61,214.81 C618.87,217.03 619.82,219.88 619.51,222.42 C619.19,224.95 617.29,227.17 615.71,230.02 C614.12,232.87 612.22,236.36 610.00,239.53 C607.79,242.70 604.15,246.18 602.40,249.03 C600.66,251.88 600.66,252.83 599.55,256.64 C598.45,260.44 597.18,266.78 595.75,271.85 C594.33,276.91 592.43,282.30 591.00,287.05 C589.58,291.81 588.22,296.08 587.20,300.36 C586.19,304.64 585.30,310.66 584.92,312.72" class="cs"/>
<path d="M697.73,194.28 C698.05,194.79 698.21,196.28 699.63,197.32 C701.06,198.37 703.91,199.54 706.29,200.55 C708.67,201.57 711.68,202.14 713.90,203.41 C716.12,204.67 718.12,206.42 719.61,208.16 C721.10,209.90 722.84,211.80 722.84,213.86 C722.84,215.92 721.58,217.66 719.61,220.52 C717.64,223.37 713.74,228.12 711.05,230.97 C708.35,233.82 705.50,235.57 703.44,237.63 C701.38,239.69 699.79,241.43 698.68,243.33 C697.57,245.23 697.57,245.55 696.78,249.03 C695.99,252.52 694.78,259.49 693.93,264.24 C693.07,268.99 692.12,273.43 691.64,277.55 C691.17,281.67 690.85,285.79 691.07,288.96 C691.30,292.12 692.18,294.50 692.98,296.56 C693.77,298.62 695.35,300.52 695.83,301.31" class="cd"/>
<path d="M697.73,194.28 C697.89,194.69 697.10,195.87 698.68,196.75 C700.27,197.64 703.28,198.50 707.24,199.60 C711.21,200.71 717.39,201.98 722.46,203.41 C727.54,204.83 733.72,206.73 737.68,208.16 C741.65,209.59 744.34,210.69 746.24,211.96 C748.15,213.23 749.10,214.34 749.10,215.76 C749.10,217.19 747.83,218.14 746.24,220.52 C744.66,222.89 742.28,226.54 739.59,230.02 C736.89,233.51 732.29,238.26 730.07,241.43 C727.85,244.60 727.54,246.18 726.27,249.03 C725.00,251.88 724.37,255.05 722.46,258.54 C720.56,262.02 717.39,266.14 714.85,269.94 C712.32,273.75 709.46,277.87 707.24,281.35 C705.02,284.84 702.96,288.00 701.54,290.86 C700.11,293.71 699.38,296.72 698.68,298.46 C697.99,300.20 697.57,300.84 697.35,301.31" class="cs"/>
<path d="M69.60,342.28 C71.50,342.85 77.20,344.18 81.00,345.70 C84.80,347.22 89.08,349.51 92.40,351.41 C95.73,353.31 98.99,355.21 100.95,357.11 C102.92,359.01 103.87,360.28 104.19,362.81 C104.50,365.35 103.87,368.83 102.86,372.32 C101.84,375.80 100.48,379.61 98.10,383.72 C95.73,387.84 91.77,392.60 88.60,397.03 C85.44,401.47 81.95,405.90 79.10,410.34 C76.25,414.78 73.40,419.53 71.50,423.65 C69.60,427.77 68.49,431.25 67.70,435.05 C66.91,438.86 66.91,443.13 66.75,446.46 C66.59,449.79 66.75,453.59 66.75,455.02" class="cd"/>
<path d="M69.60,342.28 C72.14,343.01 79.74,345.13 84.80,346.65 C89.87,348.17 95.25,349.82 100.00,351.41 C104.76,352.99 109.98,354.89 113.31,356.16 C116.63,357.43 118.21,357.43 119.96,359.01 C121.70,360.60 122.81,363.13 123.76,365.66 C124.71,368.20 125.50,371.21 125.66,374.22 C125.82,377.23 125.82,379.92 124.71,383.72 C123.60,387.53 121.54,392.60 119.01,397.03 C116.47,401.47 112.99,405.90 109.51,410.34 C106.02,414.78 101.90,419.21 98.10,423.65 C94.30,428.08 89.87,432.68 86.70,436.96 C83.54,441.23 81.07,445.51 79.10,449.31 C77.14,453.11 75.62,458.03 74.92,459.77" class="cs"/>
<path d="M456.30,343.90 C458.93,345.43 467.45,350.48 472.10,353.10 C476.75,355.72 481.10,357.12 484.20,359.60 C487.30,362.08 489.17,365.05 490.70,368.00 C492.23,370.95 493.03,374.98 493.40,377.30 C493.77,379.62 493.35,380.05 492.90,381.90 C492.45,383.75 492.00,385.15 490.70,388.40 C489.40,391.65 487.27,396.45 485.10,401.40 C482.93,406.35 480.48,412.53 477.70,418.10 C474.92,423.67 470.88,429.85 468.40,434.80 C465.92,439.75 464.50,443.78 462.80,447.80 C461.10,451.82 458.97,457.05 458.20,458.90" class="cd"/>
<path d="M456.30,343.90 C458.93,345.43 467.30,350.32 472.10,353.10 C476.90,355.88 481.08,358.28 485.10,360.60 C489.12,362.92 492.95,364.85 496.20,367.00 C499.45,369.15 502.80,370.55 504.60,373.50 C506.40,376.45 506.70,380.98 507.00,384.70 C507.30,388.42 506.80,392.87 506.40,395.80 C506.00,398.73 506.60,399.20 504.60,402.30 C502.60,405.40 498.27,410.23 494.40,414.40 C490.53,418.57 485.27,423.28 481.40,427.30 C477.53,431.32 473.98,434.78 471.20,438.50 C468.42,442.22 466.57,445.77 464.70,449.60 C462.83,453.43 460.78,459.52 460.00,461.50" class="cs"/>
<path d="M577.70,342.85 C579.29,343.64 583.40,346.02 587.20,347.60 C591.00,349.19 596.39,350.77 600.50,352.36 C604.62,353.94 608.42,355.53 611.90,357.11 C615.39,358.69 619.03,359.96 621.41,361.86 C623.78,363.76 626.00,366.30 626.16,368.52 C626.31,370.73 624.73,372.64 622.36,375.17 C619.98,377.70 615.86,380.40 611.90,383.72 C607.95,387.05 602.40,391.65 598.60,395.13 C594.80,398.62 591.95,401.79 589.10,404.64 C586.25,407.49 583.56,410.02 581.50,412.24 C579.44,414.46 578.08,416.04 576.75,417.94 C575.42,419.85 574.31,420.80 573.52,423.65 C572.73,426.50 572.10,431.25 572.00,435.05 C571.91,438.86 572.48,442.98 572.95,446.46 C573.43,449.95 574.38,453.59 574.85,455.97 C575.33,458.34 575.64,459.93 575.80,460.72" class="cd"/>
<path d="M577.70,342.85 C579.29,343.64 583.09,345.86 587.20,347.60 C591.32,349.35 597.34,351.41 602.40,353.31 C607.47,355.21 612.86,357.43 617.61,359.01 C622.36,360.60 627.74,361.55 630.91,362.81 C634.07,364.08 636.13,365.03 636.61,366.62 C637.08,368.20 635.97,370.10 633.76,372.32 C631.54,374.54 627.26,377.07 623.31,379.92 C619.35,382.77 614.44,386.26 610.00,389.43 C605.57,392.60 600.82,395.77 596.70,398.93 C592.59,402.10 588.47,405.43 585.30,408.44 C582.14,411.45 579.67,414.46 577.70,416.99 C575.74,419.53 574.47,420.64 573.52,423.65 C572.57,426.66 572.10,431.25 572.00,435.05 C571.91,438.86 572.48,442.98 572.95,446.46 C573.43,449.95 574.38,453.59 574.85,455.97 C575.33,458.34 575.64,459.93 575.80,460.72" class="cs"/>
<path d="M701.54,342.28 C703.60,342.85 710.10,344.50 713.90,345.70 C717.71,346.91 721.04,347.92 724.37,349.51 C727.70,351.09 731.02,353.15 733.88,355.21 C736.73,357.27 739.74,359.64 741.49,361.86 C743.23,364.08 744.18,366.14 744.34,368.52 C744.50,370.89 743.55,373.74 742.44,376.12 C741.33,378.50 740.22,380.08 737.68,382.77 C735.15,385.47 730.71,389.27 727.22,392.28 C723.73,395.29 720.09,397.98 716.76,400.83 C713.43,403.69 709.94,406.70 707.24,409.39 C704.55,412.08 702.33,414.46 700.59,416.99 C698.84,419.53 697.73,421.59 696.78,424.60 C695.83,427.61 695.20,431.41 694.88,435.05 C694.56,438.70 694.56,442.98 694.88,446.46 C695.20,449.95 696.30,453.59 696.78,455.97 C697.26,458.34 697.57,459.93 697.73,460.72" class="cd"/>
<path d="M699.63,342.28 C701.54,342.85 707.24,344.50 711.05,345.70 C714.85,346.91 718.98,347.92 722.46,349.51 C725.95,351.09 729.12,353.15 731.98,355.21 C734.83,357.27 737.75,359.80 739.59,361.86 C741.42,363.92 742.69,365.35 743.01,367.57 C743.33,369.78 742.69,372.64 741.49,375.17 C740.28,377.70 738.32,380.08 735.78,382.77 C733.24,385.47 729.76,388.32 726.27,391.33 C722.78,394.34 718.34,397.67 714.85,400.83 C711.37,404.00 708.04,407.33 705.34,410.34 C702.65,413.35 700.33,416.04 698.68,418.89 C697.03,421.75 696.18,424.44 695.45,427.45 C694.72,430.46 694.40,433.79 694.31,436.96 C694.21,440.12 694.47,443.29 694.88,446.46 C695.29,449.63 696.30,453.59 696.78,455.97 C697.26,458.34 697.57,459.93 697.73,460.72" class="cs"/>
<path d="M452.50,496.80 L460.05,500.50 L478.14,506.06 L488.69,513.59 L490.20,517.60 L488.69,522.14 L481.16,530.18 L466.08,542.24 L457.04,554.30 L455.50,560.00 L454.50,565.20 L453.30,578.50 L453.00,591.90 L453.80,605.20 L454.90,613.70" class="cd"/>
<path d="M458.00,496.30 L475.13,504.30 L492.21,508.40 L500.40,515.00 L494.80,525.00 L483.30,533.00 L469.40,545.00 L458.40,554.60 L455.50,560.00 L454.50,565.20 L453.30,578.50 L453.00,591.90 L453.80,605.20 L454.90,613.70" class="cs"/>
<path d="M458.54,496.51 L470.10,501.60 L492.21,507.20 L500.75,514.30 L494.00,524.00 L482.60,531.80 L468.60,544.00 L457.60,554.00 L456.53,559.30 L454.75,565.20 L452.85,578.50 L452.28,591.90 L453.40,605.20 L454.75,613.70" class="cr"/>
<path d="M457.04,497.01 L470.10,502.04 L488.19,508.07 L493.72,514.60 L488.19,522.14 L476.13,532.19 L466.08,539.22 L457.04,554.30 L455.30,565.20 L453.80,578.50 L453.40,591.90 L454.20,605.20 L455.70,613.70" class="cb"/>
<text x="115.50" y="141.90" font-size="11.8" text-anchor="start" font-weight="bold" fill="#000" stroke="#000" >+1.6Sv</text>
<text x="115.50" y="156.10" font-size="11.8" text-anchor="start" font-weight="bold" fill="#000" stroke="#000" >-1500m</text>
<text x="226.80" y="141.70" font-size="11.8" text-anchor="start" font-weight="bold" fill="#000" stroke="#000" >+10.2Sv</text>
<text x="226.80" y="156.10" font-size="11.8" text-anchor="start" font-weight="bold" fill="#000" stroke="#000" >+1950m</text>
<text x="352.00" y="144.70" font-size="11.8" text-anchor="start" font-weight="bold" fill="#000" stroke="#000" >+13.1Sv</text>
<text x="352.00" y="159.20" font-size="11.8" text-anchor="start" font-weight="bold" fill="#000" stroke="#000" >+1200m</text>
<text x="492.40" y="141.90" font-size="11.8" text-anchor="start" font-weight="bold" fill="#000" stroke="#000" >+2.7Sv</text>
<text x="492.40" y="156.10" font-size="11.8" text-anchor="start" font-weight="bold" fill="#000" stroke="#000" >+250m</text>
<text x="615.20" y="141.90" font-size="11.8" text-anchor="start" font-weight="bold" fill="#000" stroke="#000" >+6.4Sv</text>
<text x="615.20" y="156.10" font-size="11.8" text-anchor="start" font-weight="bold" fill="#000" stroke="#000" >+250m</text>
<text x="735.30" y="141.90" font-size="11.8" text-anchor="start" font-weight="bold" fill="#000" stroke="#000" >-1.4Sv</text>
<text x="735.30" y="156.10" font-size="11.8" text-anchor="start" font-weight="bold" fill="#000" stroke="#000" >-240m</text>
<text x="112.50" y="293.20" font-size="11.8" text-anchor="start" font-weight="bold" fill="#000" stroke="#000" >+20.8Sv</text>
<text x="112.50" y="307.40" font-size="11.8" text-anchor="start" font-weight="bold" fill="#000" stroke="#000" >+2500m</text>
<text x="229.00" y="293.10" font-size="11.8" text-anchor="start" font-weight="bold" fill="#000" stroke="#000" >+9.5Sv</text>
<text x="229.00" y="307.10" font-size="11.8" text-anchor="start" font-weight="bold" fill="#000" stroke="#000" >+2200m</text>
<text x="352.80" y="293.10" font-size="11.8" text-anchor="start" font-weight="bold" fill="#000" stroke="#000" >+3.0Sv</text>
<text x="352.80" y="307.10" font-size="11.8" text-anchor="start" font-weight="bold" fill="#000" stroke="#000" >+0m</text>
<text x="607.60" y="293.10" font-size="11.8" text-anchor="start" font-weight="bold" fill="#000" stroke="#000" >-2.4Sv</text>
<text x="607.60" y="307.10" font-size="11.8" text-anchor="start" font-weight="bold" fill="#000" stroke="#000" >no AABW</text>
<text x="729.60" y="293.10" font-size="11.8" text-anchor="start" font-weight="bold" fill="#000" stroke="#000" >+11.0Sv</text>
<text x="729.60" y="307.10" font-size="11.8" text-anchor="start" font-weight="bold" fill="#000" stroke="#000" >+2450m</text>
<text x="114.50" y="443.90" font-size="11.8" text-anchor="start" font-weight="bold" fill="#000" stroke="#000" >+8.7Sv</text>
<text x="114.50" y="458.50" font-size="11.8" text-anchor="start" font-weight="bold" fill="#000" stroke="#000" >+1300m</text>
<text x="489.50" y="443.90" font-size="11.8" text-anchor="start" font-weight="bold" fill="#000" stroke="#000" >+5.9Sv</text>
<text x="489.50" y="457.90" font-size="11.8" text-anchor="start" font-weight="bold" fill="#000" stroke="#000" >no AABW</text>
<text x="615.20" y="444.90" font-size="11.8" text-anchor="start" font-weight="bold" fill="#000" stroke="#000" >+4.9Sv</text>
<text x="615.20" y="458.80" font-size="11.8" text-anchor="start" font-weight="bold" fill="#000" stroke="#000" >+120m</text>
<text x="733.40" y="443.90" font-size="11.8" text-anchor="start" font-weight="bold" fill="#000" stroke="#000" >-0.9Sv</text>
<text x="733.40" y="457.90" font-size="11.8" text-anchor="start" font-weight="bold" fill="#000" stroke="#000" >-100m</text>
<text x="544.00" y="241.10" font-size="11.8" text-anchor="end" font-weight="bold" fill="#000" stroke="#000" >ice6g</text>
<text x="544.00" y="255.04" font-size="11.8" text-anchor="end" font-weight="bold" fill="#000" stroke="#000" >+8.5Sv</text>
<text x="544.00" y="268.98" font-size="11.8" text-anchor="end" font-weight="bold" fill="#000" stroke="#000" >+2600m</text>
<text x="544.00" y="282.92" font-size="11.8" text-anchor="end" font-weight="bold" fill="#ff2a1f" stroke="#ff2a1f" >glac1d</text>
<text x="544.00" y="296.86" font-size="11.8" text-anchor="end" font-weight="bold" fill="#000" stroke="#000" >+7.9Sv</text>
<text x="544.00" y="310.80" font-size="11.8" text-anchor="end" font-weight="bold" fill="#000" stroke="#000" >+2600m</text>
<text x="592.80" y="504.60" font-size="11.8" text-anchor="end" font-weight="bold" fill="#000" stroke="#000" >ice6g</text>
<text x="592.80" y="518.76" font-size="11.8" text-anchor="end" font-weight="bold" fill="#000" stroke="#000" >+4.3Sv</text>
<text x="592.80" y="532.92" font-size="11.8" text-anchor="end" font-weight="bold" fill="#000" stroke="#000" >+0m</text>
<text x="592.80" y="547.08" font-size="11.8" text-anchor="end" font-weight="bold" fill="#ff2a1f" stroke="#ff2a1f" >glac1d</text>
<text x="592.80" y="561.24" font-size="11.8" text-anchor="end" font-weight="bold" fill="#000" stroke="#000" >+4.4Sv</text>
<text x="592.80" y="575.40" font-size="11.8" text-anchor="end" font-weight="bold" fill="#000" stroke="#000" >+200m</text>
<text x="592.80" y="589.56" font-size="11.8" text-anchor="end" font-weight="bold" fill="#2a3cff" stroke="#2a3cff" >pmip3</text>
<text x="592.80" y="603.72" font-size="11.8" text-anchor="end" font-weight="bold" fill="#000" stroke="#000" >+1.5Sv</text>
<text x="592.80" y="617.88" font-size="11.8" text-anchor="end" font-weight="bold" fill="#000" stroke="#000" >+100m</text>
</svg></body></html>
